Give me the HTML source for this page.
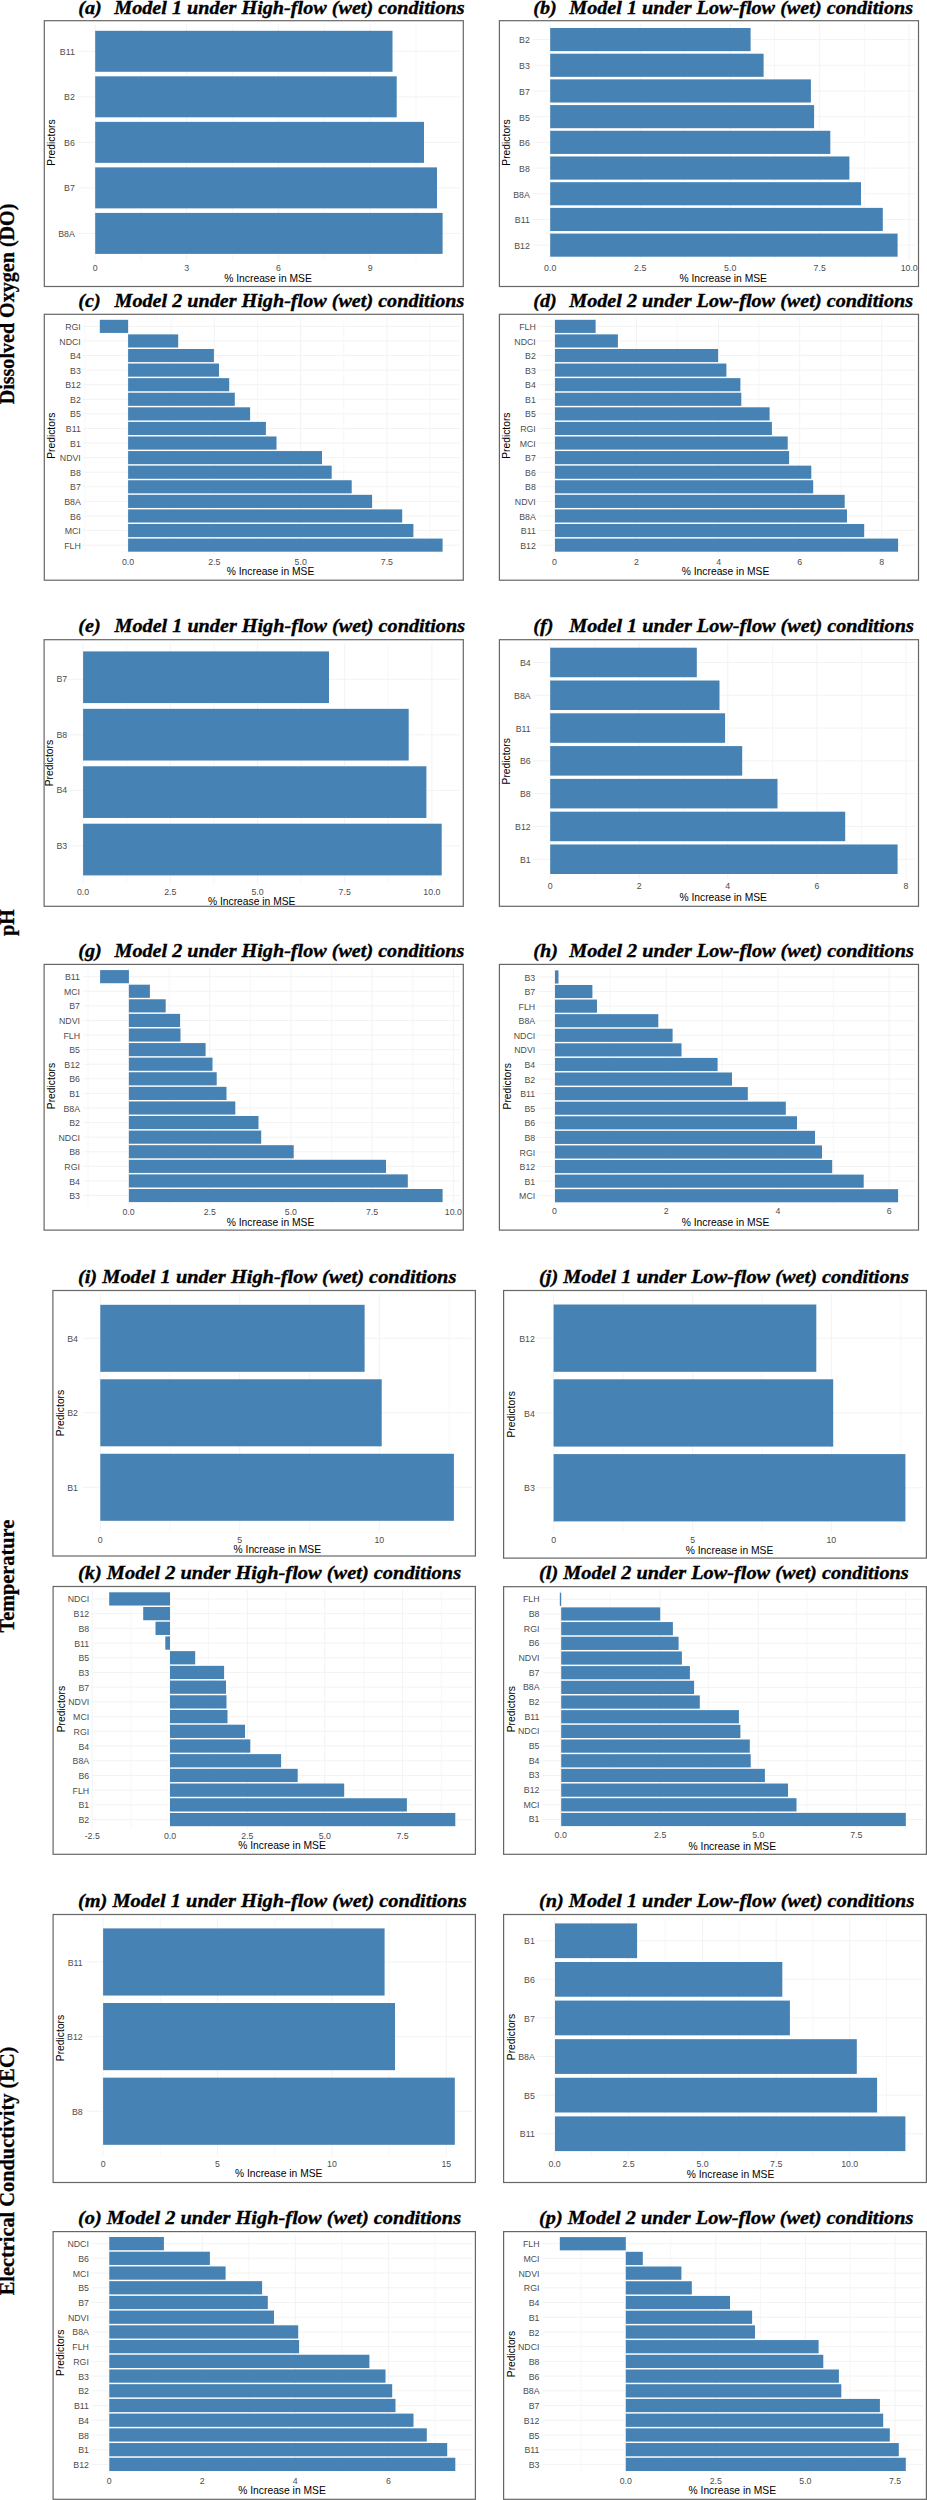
<!DOCTYPE html><html><head><meta charset="utf-8"><style>html,body{margin:0;padding:0;background:#fff;width:927px;height:2500px;overflow:hidden}svg{display:block}.ti{font-family:"Liberation Serif",serif;font-weight:bold;font-style:italic;fill:#000;stroke:#000;stroke-width:0.35px}.rl{font-family:"Liberation Serif",serif;font-weight:bold;fill:#000;stroke:#000;stroke-width:0.3px}.tk{font-family:"Liberation Sans",sans-serif;fill:#4D4D4D}.at{font-family:"Liberation Sans",sans-serif;fill:#000}</style></head><body>
<svg width="927" height="2500" viewBox="0 0 927 2500">
<rect width="927" height="2500" fill="#fff"/>
<text class="rl" font-size="20.3" transform="translate(14,304) rotate(-90)" text-anchor="middle" textLength="200.7" lengthAdjust="spacingAndGlyphs">Dissolved Oxygen (DO)</text>
<text class="rl" font-size="20.3" transform="translate(14,922.5) rotate(-90)" text-anchor="middle" textLength="26.4" lengthAdjust="spacingAndGlyphs">pH</text>
<text class="rl" font-size="20.3" transform="translate(14,1576.2) rotate(-90)" text-anchor="middle" textLength="112.7" lengthAdjust="spacingAndGlyphs">Temperature</text>
<text class="rl" font-size="20.3" transform="translate(14,2171) rotate(-90)" text-anchor="middle" textLength="248.7" lengthAdjust="spacingAndGlyphs">Electrical Conductivity (EC)</text>
<line x1="141.03" y1="23.97" x2="141.03" y2="260.73" stroke="#F5F5F5" stroke-width="0.8"/>
<line x1="232.7" y1="23.97" x2="232.7" y2="260.73" stroke="#F5F5F5" stroke-width="0.8"/>
<line x1="324.37" y1="23.97" x2="324.37" y2="260.73" stroke="#F5F5F5" stroke-width="0.8"/>
<line x1="416.03" y1="23.97" x2="416.03" y2="260.73" stroke="#F5F5F5" stroke-width="0.8"/>
<line x1="95.2" y1="23.97" x2="95.2" y2="260.73" stroke="#F3F3F3" stroke-width="1"/>
<line x1="186.6" y1="23.97" x2="186.6" y2="260.73" stroke="#F3F3F3" stroke-width="1"/>
<line x1="278.4" y1="23.97" x2="278.4" y2="260.73" stroke="#F3F3F3" stroke-width="1"/>
<line x1="370.2" y1="23.97" x2="370.2" y2="260.73" stroke="#F3F3F3" stroke-width="1"/>
<line x1="77.83" y1="51.29" x2="459.97" y2="51.29" stroke="#F3F3F3" stroke-width="1"/>
<line x1="77.83" y1="96.82" x2="459.97" y2="96.82" stroke="#F3F3F3" stroke-width="1"/>
<line x1="77.83" y1="142.35" x2="459.97" y2="142.35" stroke="#F3F3F3" stroke-width="1"/>
<line x1="77.83" y1="187.88" x2="459.97" y2="187.88" stroke="#F3F3F3" stroke-width="1"/>
<line x1="77.83" y1="233.41" x2="459.97" y2="233.41" stroke="#F3F3F3" stroke-width="1"/>
<rect x="95.2" y="30.8" width="297.3" height="40.98" fill="#4682B4"/>
<text class="tk" font-size="8.8" transform="translate(74.8,54.86) scale(1,1.08)" text-anchor="end">B11</text>
<rect x="95.2" y="76.33" width="301.5" height="40.98" fill="#4682B4"/>
<text class="tk" font-size="8.8" transform="translate(74.8,100.39) scale(1,1.08)" text-anchor="end">B2</text>
<rect x="95.2" y="121.86" width="328.8" height="40.98" fill="#4682B4"/>
<text class="tk" font-size="8.8" transform="translate(74.8,145.92) scale(1,1.08)" text-anchor="end">B6</text>
<rect x="95.2" y="167.39" width="341.8" height="40.98" fill="#4682B4"/>
<text class="tk" font-size="8.8" transform="translate(74.8,191.45) scale(1,1.08)" text-anchor="end">B7</text>
<rect x="95.2" y="212.92" width="347.4" height="40.98" fill="#4682B4"/>
<text class="tk" font-size="8.8" transform="translate(74.8,236.98) scale(1,1.08)" text-anchor="end">B8A</text>
<text class="tk" font-size="8.8" transform="translate(95.2,271.07) scale(1,1.08)" text-anchor="middle">0</text>
<text class="tk" font-size="8.8" transform="translate(186.6,271.07) scale(1,1.08)" text-anchor="middle">3</text>
<text class="tk" font-size="8.8" transform="translate(278.4,271.07) scale(1,1.08)" text-anchor="middle">6</text>
<text class="tk" font-size="8.8" transform="translate(370.2,271.07) scale(1,1.08)" text-anchor="middle">9</text>
<text class="at" font-size="10.3" x="268" y="281.69" text-anchor="middle">% Increase in MSE</text>
<text class="at" font-size="10.3" transform="translate(55.29,142.5) rotate(-90)" text-anchor="middle">Predictors</text>
<rect x="44.3" y="20.7" width="419" height="265.8" fill="none" stroke="#666666" stroke-width="1.2"/>
<text class="ti" font-size="20.2" transform="translate(78.2,14) scale(1,0.95)">(a)</text>
<text class="ti" font-size="20.2" transform="translate(114.2,14) scale(1,0.95)" textLength="350.4" lengthAdjust="spacingAndGlyphs">Model 1 under High-flow (wet) conditions</text>
<line x1="595.08" y1="24.15" x2="595.08" y2="260.55" stroke="#F5F5F5" stroke-width="0.8"/>
<line x1="684.83" y1="24.15" x2="684.83" y2="260.55" stroke="#F5F5F5" stroke-width="0.8"/>
<line x1="774.58" y1="24.15" x2="774.58" y2="260.55" stroke="#F5F5F5" stroke-width="0.8"/>
<line x1="864.33" y1="24.15" x2="864.33" y2="260.55" stroke="#F5F5F5" stroke-width="0.8"/>
<line x1="550.2" y1="24.15" x2="550.2" y2="260.55" stroke="#F3F3F3" stroke-width="1"/>
<line x1="640.2" y1="24.15" x2="640.2" y2="260.55" stroke="#F3F3F3" stroke-width="1"/>
<line x1="730.2" y1="24.15" x2="730.2" y2="260.55" stroke="#F3F3F3" stroke-width="1"/>
<line x1="819.7" y1="24.15" x2="819.7" y2="260.55" stroke="#F3F3F3" stroke-width="1"/>
<line x1="909.2" y1="24.15" x2="909.2" y2="260.55" stroke="#F3F3F3" stroke-width="1"/>
<line x1="532.83" y1="39.56" x2="914.97" y2="39.56" stroke="#F3F3F3" stroke-width="1"/>
<line x1="532.83" y1="65.26" x2="914.97" y2="65.26" stroke="#F3F3F3" stroke-width="1"/>
<line x1="532.83" y1="90.96" x2="914.97" y2="90.96" stroke="#F3F3F3" stroke-width="1"/>
<line x1="532.83" y1="116.65" x2="914.97" y2="116.65" stroke="#F3F3F3" stroke-width="1"/>
<line x1="532.83" y1="142.35" x2="914.97" y2="142.35" stroke="#F3F3F3" stroke-width="1"/>
<line x1="532.83" y1="168.05" x2="914.97" y2="168.05" stroke="#F3F3F3" stroke-width="1"/>
<line x1="532.83" y1="193.74" x2="914.97" y2="193.74" stroke="#F3F3F3" stroke-width="1"/>
<line x1="532.83" y1="219.44" x2="914.97" y2="219.44" stroke="#F3F3F3" stroke-width="1"/>
<line x1="532.83" y1="245.14" x2="914.97" y2="245.14" stroke="#F3F3F3" stroke-width="1"/>
<rect x="550.2" y="28" width="200.4" height="23.13" fill="#4682B4"/>
<text class="tk" font-size="8.8" transform="translate(529.8,43.43) scale(1,1.08)" text-anchor="end">B2</text>
<rect x="550.2" y="53.7" width="213.4" height="23.13" fill="#4682B4"/>
<text class="tk" font-size="8.8" transform="translate(529.8,69.13) scale(1,1.08)" text-anchor="end">B3</text>
<rect x="550.2" y="79.39" width="260.7" height="23.13" fill="#4682B4"/>
<text class="tk" font-size="8.8" transform="translate(529.8,94.83) scale(1,1.08)" text-anchor="end">B7</text>
<rect x="550.2" y="105.09" width="263.9" height="23.13" fill="#4682B4"/>
<text class="tk" font-size="8.8" transform="translate(529.8,120.52) scale(1,1.08)" text-anchor="end">B5</text>
<rect x="550.2" y="130.79" width="280.1" height="23.13" fill="#4682B4"/>
<text class="tk" font-size="8.8" transform="translate(529.8,146.22) scale(1,1.08)" text-anchor="end">B6</text>
<rect x="550.2" y="156.48" width="299.2" height="23.13" fill="#4682B4"/>
<text class="tk" font-size="8.8" transform="translate(529.8,171.92) scale(1,1.08)" text-anchor="end">B8</text>
<rect x="550.2" y="182.18" width="310.8" height="23.13" fill="#4682B4"/>
<text class="tk" font-size="8.8" transform="translate(529.8,197.61) scale(1,1.08)" text-anchor="end">B8A</text>
<rect x="550.2" y="207.88" width="332.6" height="23.13" fill="#4682B4"/>
<text class="tk" font-size="8.8" transform="translate(529.8,223.31) scale(1,1.08)" text-anchor="end">B11</text>
<rect x="550.2" y="233.57" width="347.4" height="23.13" fill="#4682B4"/>
<text class="tk" font-size="8.8" transform="translate(529.8,249.01) scale(1,1.08)" text-anchor="end">B12</text>
<text class="tk" font-size="8.8" transform="translate(550.2,271.07) scale(1,1.08)" text-anchor="middle">0.0</text>
<text class="tk" font-size="8.8" transform="translate(640.2,271.07) scale(1,1.08)" text-anchor="middle">2.5</text>
<text class="tk" font-size="8.8" transform="translate(730.2,271.07) scale(1,1.08)" text-anchor="middle">5.0</text>
<text class="tk" font-size="8.8" transform="translate(819.7,271.07) scale(1,1.08)" text-anchor="middle">7.5</text>
<text class="tk" font-size="8.8" transform="translate(909.2,271.07) scale(1,1.08)" text-anchor="middle">10.0</text>
<text class="at" font-size="10.3" x="723.2" y="281.69" text-anchor="middle">% Increase in MSE</text>
<text class="at" font-size="10.3" transform="translate(510.29,142.5) rotate(-90)" text-anchor="middle">Predictors</text>
<rect x="499.4" y="20.7" width="419.1" height="265.8" fill="none" stroke="#666666" stroke-width="1.2"/>
<text class="ti" font-size="20.2" transform="translate(533.2,14) scale(1,0.95)">(b)</text>
<text class="ti" font-size="20.2" transform="translate(569.2,14) scale(1,0.95)" textLength="343.9" lengthAdjust="spacingAndGlyphs">Model 1 under Low-flow (wet) conditions</text>
<line x1="84.97" y1="317.61" x2="84.97" y2="553.89" stroke="#F5F5F5" stroke-width="0.8"/>
<line x1="171.23" y1="317.61" x2="171.23" y2="553.89" stroke="#F5F5F5" stroke-width="0.8"/>
<line x1="257.5" y1="317.61" x2="257.5" y2="553.89" stroke="#F5F5F5" stroke-width="0.8"/>
<line x1="343.77" y1="317.61" x2="343.77" y2="553.89" stroke="#F5F5F5" stroke-width="0.8"/>
<line x1="430.03" y1="317.61" x2="430.03" y2="553.89" stroke="#F5F5F5" stroke-width="0.8"/>
<line x1="128.1" y1="317.61" x2="128.1" y2="553.89" stroke="#F3F3F3" stroke-width="1"/>
<line x1="214.4" y1="317.61" x2="214.4" y2="553.89" stroke="#F3F3F3" stroke-width="1"/>
<line x1="300.7" y1="317.61" x2="300.7" y2="553.89" stroke="#F3F3F3" stroke-width="1"/>
<line x1="386.9" y1="317.61" x2="386.9" y2="553.89" stroke="#F3F3F3" stroke-width="1"/>
<line x1="82.66" y1="326.36" x2="459.74" y2="326.36" stroke="#F3F3F3" stroke-width="1"/>
<line x1="82.66" y1="340.95" x2="459.74" y2="340.95" stroke="#F3F3F3" stroke-width="1"/>
<line x1="82.66" y1="355.53" x2="459.74" y2="355.53" stroke="#F3F3F3" stroke-width="1"/>
<line x1="82.66" y1="370.12" x2="459.74" y2="370.12" stroke="#F3F3F3" stroke-width="1"/>
<line x1="82.66" y1="384.7" x2="459.74" y2="384.7" stroke="#F3F3F3" stroke-width="1"/>
<line x1="82.66" y1="399.29" x2="459.74" y2="399.29" stroke="#F3F3F3" stroke-width="1"/>
<line x1="82.66" y1="413.87" x2="459.74" y2="413.87" stroke="#F3F3F3" stroke-width="1"/>
<line x1="82.66" y1="428.46" x2="459.74" y2="428.46" stroke="#F3F3F3" stroke-width="1"/>
<line x1="82.66" y1="443.04" x2="459.74" y2="443.04" stroke="#F3F3F3" stroke-width="1"/>
<line x1="82.66" y1="457.63" x2="459.74" y2="457.63" stroke="#F3F3F3" stroke-width="1"/>
<line x1="82.66" y1="472.21" x2="459.74" y2="472.21" stroke="#F3F3F3" stroke-width="1"/>
<line x1="82.66" y1="486.8" x2="459.74" y2="486.8" stroke="#F3F3F3" stroke-width="1"/>
<line x1="82.66" y1="501.38" x2="459.74" y2="501.38" stroke="#F3F3F3" stroke-width="1"/>
<line x1="82.66" y1="515.97" x2="459.74" y2="515.97" stroke="#F3F3F3" stroke-width="1"/>
<line x1="82.66" y1="530.55" x2="459.74" y2="530.55" stroke="#F3F3F3" stroke-width="1"/>
<line x1="82.66" y1="545.14" x2="459.74" y2="545.14" stroke="#F3F3F3" stroke-width="1"/>
<rect x="99.8" y="319.8" width="28.3" height="13.13" fill="#4682B4"/>
<text class="tk" font-size="8.8" transform="translate(80.8,329.93) scale(1,1.08)" text-anchor="end">RGI</text>
<rect x="128.1" y="334.38" width="50.1" height="13.13" fill="#4682B4"/>
<text class="tk" font-size="8.8" transform="translate(80.8,344.52) scale(1,1.08)" text-anchor="end">NDCI</text>
<rect x="128.1" y="348.97" width="85.8" height="13.13" fill="#4682B4"/>
<text class="tk" font-size="8.8" transform="translate(80.8,359.1) scale(1,1.08)" text-anchor="end">B4</text>
<rect x="128.1" y="363.55" width="90.9" height="13.13" fill="#4682B4"/>
<text class="tk" font-size="8.8" transform="translate(80.8,373.69) scale(1,1.08)" text-anchor="end">B3</text>
<rect x="128.1" y="378.14" width="101.1" height="13.13" fill="#4682B4"/>
<text class="tk" font-size="8.8" transform="translate(80.8,388.27) scale(1,1.08)" text-anchor="end">B12</text>
<rect x="128.1" y="392.72" width="106.7" height="13.13" fill="#4682B4"/>
<text class="tk" font-size="8.8" transform="translate(80.8,402.86) scale(1,1.08)" text-anchor="end">B2</text>
<rect x="128.1" y="407.31" width="122" height="13.13" fill="#4682B4"/>
<text class="tk" font-size="8.8" transform="translate(80.8,417.44) scale(1,1.08)" text-anchor="end">B5</text>
<rect x="128.1" y="421.89" width="137.8" height="13.13" fill="#4682B4"/>
<text class="tk" font-size="8.8" transform="translate(80.8,432.03) scale(1,1.08)" text-anchor="end">B11</text>
<rect x="128.1" y="436.48" width="148.4" height="13.13" fill="#4682B4"/>
<text class="tk" font-size="8.8" transform="translate(80.8,446.61) scale(1,1.08)" text-anchor="end">B1</text>
<rect x="128.1" y="451.06" width="193.9" height="13.13" fill="#4682B4"/>
<text class="tk" font-size="8.8" transform="translate(80.8,461.2) scale(1,1.08)" text-anchor="end">NDVI</text>
<rect x="128.1" y="465.65" width="203.6" height="13.13" fill="#4682B4"/>
<text class="tk" font-size="8.8" transform="translate(80.8,475.78) scale(1,1.08)" text-anchor="end">B8</text>
<rect x="128.1" y="480.23" width="223.6" height="13.13" fill="#4682B4"/>
<text class="tk" font-size="8.8" transform="translate(80.8,490.37) scale(1,1.08)" text-anchor="end">B7</text>
<rect x="128.1" y="494.82" width="244" height="13.13" fill="#4682B4"/>
<text class="tk" font-size="8.8" transform="translate(80.8,504.95) scale(1,1.08)" text-anchor="end">B8A</text>
<rect x="128.1" y="509.4" width="274.1" height="13.13" fill="#4682B4"/>
<text class="tk" font-size="8.8" transform="translate(80.8,519.54) scale(1,1.08)" text-anchor="end">B6</text>
<rect x="128.1" y="523.99" width="285.3" height="13.13" fill="#4682B4"/>
<text class="tk" font-size="8.8" transform="translate(80.8,534.12) scale(1,1.08)" text-anchor="end">MCI</text>
<rect x="128.1" y="538.57" width="314.5" height="13.13" fill="#4682B4"/>
<text class="tk" font-size="8.8" transform="translate(80.8,548.71) scale(1,1.08)" text-anchor="end">FLH</text>
<text class="tk" font-size="8.8" transform="translate(128.1,565.17) scale(1,1.08)" text-anchor="middle">0.0</text>
<text class="tk" font-size="8.8" transform="translate(214.4,565.17) scale(1,1.08)" text-anchor="middle">2.5</text>
<text class="tk" font-size="8.8" transform="translate(300.7,565.17) scale(1,1.08)" text-anchor="middle">5.0</text>
<text class="tk" font-size="8.8" transform="translate(386.9,565.17) scale(1,1.08)" text-anchor="middle">7.5</text>
<text class="at" font-size="10.3" x="270.5" y="574.89" text-anchor="middle">% Increase in MSE</text>
<text class="at" font-size="10.3" transform="translate(55.29,435.7) rotate(-90)" text-anchor="middle">Predictors</text>
<rect x="44.3" y="314.3" width="419" height="265.9" fill="none" stroke="#666666" stroke-width="1.2"/>
<text class="ti" font-size="20.2" transform="translate(78.3,307.4) scale(1,0.95)">(c)</text>
<text class="ti" font-size="20.2" transform="translate(114.5,307.4) scale(1,0.95)" textLength="349.9" lengthAdjust="spacingAndGlyphs">Model 2 under High-flow (wet) conditions</text>
<line x1="595.32" y1="317.61" x2="595.32" y2="553.89" stroke="#F5F5F5" stroke-width="0.8"/>
<line x1="677.17" y1="317.61" x2="677.17" y2="553.89" stroke="#F5F5F5" stroke-width="0.8"/>
<line x1="759.02" y1="317.61" x2="759.02" y2="553.89" stroke="#F5F5F5" stroke-width="0.8"/>
<line x1="840.88" y1="317.61" x2="840.88" y2="553.89" stroke="#F5F5F5" stroke-width="0.8"/>
<line x1="554.4" y1="317.61" x2="554.4" y2="553.89" stroke="#F3F3F3" stroke-width="1"/>
<line x1="636.5" y1="317.61" x2="636.5" y2="553.89" stroke="#F3F3F3" stroke-width="1"/>
<line x1="718.6" y1="317.61" x2="718.6" y2="553.89" stroke="#F3F3F3" stroke-width="1"/>
<line x1="799.7" y1="317.61" x2="799.7" y2="553.89" stroke="#F3F3F3" stroke-width="1"/>
<line x1="881.8" y1="317.61" x2="881.8" y2="553.89" stroke="#F3F3F3" stroke-width="1"/>
<line x1="537.21" y1="326.36" x2="915.28" y2="326.36" stroke="#F3F3F3" stroke-width="1"/>
<line x1="537.21" y1="340.95" x2="915.28" y2="340.95" stroke="#F3F3F3" stroke-width="1"/>
<line x1="537.21" y1="355.53" x2="915.28" y2="355.53" stroke="#F3F3F3" stroke-width="1"/>
<line x1="537.21" y1="370.12" x2="915.28" y2="370.12" stroke="#F3F3F3" stroke-width="1"/>
<line x1="537.21" y1="384.7" x2="915.28" y2="384.7" stroke="#F3F3F3" stroke-width="1"/>
<line x1="537.21" y1="399.29" x2="915.28" y2="399.29" stroke="#F3F3F3" stroke-width="1"/>
<line x1="537.21" y1="413.87" x2="915.28" y2="413.87" stroke="#F3F3F3" stroke-width="1"/>
<line x1="537.21" y1="428.46" x2="915.28" y2="428.46" stroke="#F3F3F3" stroke-width="1"/>
<line x1="537.21" y1="443.04" x2="915.28" y2="443.04" stroke="#F3F3F3" stroke-width="1"/>
<line x1="537.21" y1="457.63" x2="915.28" y2="457.63" stroke="#F3F3F3" stroke-width="1"/>
<line x1="537.21" y1="472.21" x2="915.28" y2="472.21" stroke="#F3F3F3" stroke-width="1"/>
<line x1="537.21" y1="486.8" x2="915.28" y2="486.8" stroke="#F3F3F3" stroke-width="1"/>
<line x1="537.21" y1="501.38" x2="915.28" y2="501.38" stroke="#F3F3F3" stroke-width="1"/>
<line x1="537.21" y1="515.97" x2="915.28" y2="515.97" stroke="#F3F3F3" stroke-width="1"/>
<line x1="537.21" y1="530.55" x2="915.28" y2="530.55" stroke="#F3F3F3" stroke-width="1"/>
<line x1="537.21" y1="545.14" x2="915.28" y2="545.14" stroke="#F3F3F3" stroke-width="1"/>
<rect x="555" y="319.8" width="40.6" height="13.13" fill="#4682B4"/>
<text class="tk" font-size="8.8" transform="translate(535.8,329.93) scale(1,1.08)" text-anchor="end">FLH</text>
<rect x="555" y="334.38" width="62.9" height="13.13" fill="#4682B4"/>
<text class="tk" font-size="8.8" transform="translate(535.8,344.52) scale(1,1.08)" text-anchor="end">NDCI</text>
<rect x="555" y="348.97" width="163.1" height="13.13" fill="#4682B4"/>
<text class="tk" font-size="8.8" transform="translate(535.8,359.1) scale(1,1.08)" text-anchor="end">B2</text>
<rect x="555" y="363.55" width="171.4" height="13.13" fill="#4682B4"/>
<text class="tk" font-size="8.8" transform="translate(535.8,373.69) scale(1,1.08)" text-anchor="end">B3</text>
<rect x="555" y="378.14" width="185.4" height="13.13" fill="#4682B4"/>
<text class="tk" font-size="8.8" transform="translate(535.8,388.27) scale(1,1.08)" text-anchor="end">B4</text>
<rect x="555" y="392.72" width="186.3" height="13.13" fill="#4682B4"/>
<text class="tk" font-size="8.8" transform="translate(535.8,402.86) scale(1,1.08)" text-anchor="end">B1</text>
<rect x="555" y="407.31" width="214.6" height="13.13" fill="#4682B4"/>
<text class="tk" font-size="8.8" transform="translate(535.8,417.44) scale(1,1.08)" text-anchor="end">B5</text>
<rect x="555" y="421.89" width="216.9" height="13.13" fill="#4682B4"/>
<text class="tk" font-size="8.8" transform="translate(535.8,432.03) scale(1,1.08)" text-anchor="end">RGI</text>
<rect x="555" y="436.48" width="232.7" height="13.13" fill="#4682B4"/>
<text class="tk" font-size="8.8" transform="translate(535.8,446.61) scale(1,1.08)" text-anchor="end">MCI</text>
<rect x="555" y="451.06" width="234.1" height="13.13" fill="#4682B4"/>
<text class="tk" font-size="8.8" transform="translate(535.8,461.2) scale(1,1.08)" text-anchor="end">B7</text>
<rect x="555" y="465.65" width="256.3" height="13.13" fill="#4682B4"/>
<text class="tk" font-size="8.8" transform="translate(535.8,475.78) scale(1,1.08)" text-anchor="end">B6</text>
<rect x="555" y="480.23" width="258.2" height="13.13" fill="#4682B4"/>
<text class="tk" font-size="8.8" transform="translate(535.8,490.37) scale(1,1.08)" text-anchor="end">B8</text>
<rect x="555" y="494.82" width="289.7" height="13.13" fill="#4682B4"/>
<text class="tk" font-size="8.8" transform="translate(535.8,504.95) scale(1,1.08)" text-anchor="end">NDVI</text>
<rect x="555" y="509.4" width="292" height="13.13" fill="#4682B4"/>
<text class="tk" font-size="8.8" transform="translate(535.8,519.54) scale(1,1.08)" text-anchor="end">B8A</text>
<rect x="555" y="523.99" width="309.2" height="13.13" fill="#4682B4"/>
<text class="tk" font-size="8.8" transform="translate(535.8,534.12) scale(1,1.08)" text-anchor="end">B11</text>
<rect x="555" y="538.57" width="343.1" height="13.13" fill="#4682B4"/>
<text class="tk" font-size="8.8" transform="translate(535.8,548.71) scale(1,1.08)" text-anchor="end">B12</text>
<text class="tk" font-size="8.8" transform="translate(554.4,565.17) scale(1,1.08)" text-anchor="middle">0</text>
<text class="tk" font-size="8.8" transform="translate(636.5,565.17) scale(1,1.08)" text-anchor="middle">2</text>
<text class="tk" font-size="8.8" transform="translate(718.6,565.17) scale(1,1.08)" text-anchor="middle">4</text>
<text class="tk" font-size="8.8" transform="translate(799.7,565.17) scale(1,1.08)" text-anchor="middle">6</text>
<text class="tk" font-size="8.8" transform="translate(881.8,565.17) scale(1,1.08)" text-anchor="middle">8</text>
<text class="at" font-size="10.3" x="725.5" y="574.89" text-anchor="middle">% Increase in MSE</text>
<text class="at" font-size="10.3" transform="translate(510.29,435.7) rotate(-90)" text-anchor="middle">Predictors</text>
<rect x="499.4" y="314.3" width="419.1" height="265.9" fill="none" stroke="#666666" stroke-width="1.2"/>
<text class="ti" font-size="20.2" transform="translate(533.2,307.3) scale(1,0.95)">(d)</text>
<text class="ti" font-size="20.2" transform="translate(569.2,307.3) scale(1,0.95)" textLength="343.9" lengthAdjust="spacingAndGlyphs">Model 2 under Low-flow (wet) conditions</text>
<line x1="126.7" y1="642.78" x2="126.7" y2="884.02" stroke="#F5F5F5" stroke-width="0.8"/>
<line x1="213.9" y1="642.78" x2="213.9" y2="884.02" stroke="#F5F5F5" stroke-width="0.8"/>
<line x1="301.1" y1="642.78" x2="301.1" y2="884.02" stroke="#F5F5F5" stroke-width="0.8"/>
<line x1="388.3" y1="642.78" x2="388.3" y2="884.02" stroke="#F5F5F5" stroke-width="0.8"/>
<line x1="83.1" y1="642.78" x2="83.1" y2="884.02" stroke="#F3F3F3" stroke-width="1"/>
<line x1="170.3" y1="642.78" x2="170.3" y2="884.02" stroke="#F3F3F3" stroke-width="1"/>
<line x1="257.5" y1="642.78" x2="257.5" y2="884.02" stroke="#F3F3F3" stroke-width="1"/>
<line x1="344.7" y1="642.78" x2="344.7" y2="884.02" stroke="#F3F3F3" stroke-width="1"/>
<line x1="431.9" y1="642.78" x2="431.9" y2="884.02" stroke="#F3F3F3" stroke-width="1"/>
<line x1="65.17" y1="679.3" x2="459.63" y2="679.3" stroke="#F3F3F3" stroke-width="1"/>
<line x1="65.17" y1="734.83" x2="459.63" y2="734.83" stroke="#F3F3F3" stroke-width="1"/>
<line x1="65.17" y1="790.37" x2="459.63" y2="790.37" stroke="#F3F3F3" stroke-width="1"/>
<line x1="65.17" y1="845.9" x2="459.63" y2="845.9" stroke="#F3F3F3" stroke-width="1"/>
<rect x="83.1" y="651.4" width="245.9" height="51.69" fill="#4682B4"/>
<text class="tk" font-size="8.8" transform="translate(67.2,682.17) scale(1,1.08)" text-anchor="end">B7</text>
<rect x="83.1" y="708.84" width="325.6" height="51.69" fill="#4682B4"/>
<text class="tk" font-size="8.8" transform="translate(67.2,737.7) scale(1,1.08)" text-anchor="end">B8</text>
<rect x="83.1" y="766.27" width="343.3" height="51.69" fill="#4682B4"/>
<text class="tk" font-size="8.8" transform="translate(67.2,793.24) scale(1,1.08)" text-anchor="end">B4</text>
<rect x="83.1" y="823.71" width="358.6" height="51.69" fill="#4682B4"/>
<text class="tk" font-size="8.8" transform="translate(67.2,848.77) scale(1,1.08)" text-anchor="end">B3</text>
<text class="tk" font-size="8.8" transform="translate(83.1,894.87) scale(1,1.08)" text-anchor="middle">0.0</text>
<text class="tk" font-size="8.8" transform="translate(170.3,894.87) scale(1,1.08)" text-anchor="middle">2.5</text>
<text class="tk" font-size="8.8" transform="translate(257.5,894.87) scale(1,1.08)" text-anchor="middle">5.0</text>
<text class="tk" font-size="8.8" transform="translate(344.7,894.87) scale(1,1.08)" text-anchor="middle">7.5</text>
<text class="tk" font-size="8.8" transform="translate(431.9,894.87) scale(1,1.08)" text-anchor="middle">10.0</text>
<text class="at" font-size="10.3" x="251.7" y="904.59" text-anchor="middle">% Increase in MSE</text>
<text class="at" font-size="10.3" transform="translate(53.39,763.1) rotate(-90)" text-anchor="middle">Predictors</text>
<rect x="44.1" y="639.7" width="419.2" height="266.6" fill="none" stroke="#666666" stroke-width="1.2"/>
<text class="ti" font-size="20.2" transform="translate(78.3,632) scale(1,0.95)">(e)</text>
<text class="ti" font-size="20.2" transform="translate(114.5,632) scale(1,0.95)" textLength="350.5" lengthAdjust="spacingAndGlyphs">Model 1 under High-flow (wet) conditions</text>
<line x1="594.68" y1="642.78" x2="594.68" y2="878.92" stroke="#F5F5F5" stroke-width="0.8"/>
<line x1="683.62" y1="642.78" x2="683.62" y2="878.92" stroke="#F5F5F5" stroke-width="0.8"/>
<line x1="772.58" y1="642.78" x2="772.58" y2="878.92" stroke="#F5F5F5" stroke-width="0.8"/>
<line x1="861.52" y1="642.78" x2="861.52" y2="878.92" stroke="#F5F5F5" stroke-width="0.8"/>
<line x1="550.2" y1="642.78" x2="550.2" y2="878.92" stroke="#F3F3F3" stroke-width="1"/>
<line x1="639.2" y1="642.78" x2="639.2" y2="878.92" stroke="#F3F3F3" stroke-width="1"/>
<line x1="727.8" y1="642.78" x2="727.8" y2="878.92" stroke="#F3F3F3" stroke-width="1"/>
<line x1="816.9" y1="642.78" x2="816.9" y2="878.92" stroke="#F3F3F3" stroke-width="1"/>
<line x1="906" y1="642.78" x2="906" y2="878.92" stroke="#F3F3F3" stroke-width="1"/>
<line x1="532.83" y1="662.46" x2="914.97" y2="662.46" stroke="#F3F3F3" stroke-width="1"/>
<line x1="532.83" y1="695.26" x2="914.97" y2="695.26" stroke="#F3F3F3" stroke-width="1"/>
<line x1="532.83" y1="728.05" x2="914.97" y2="728.05" stroke="#F3F3F3" stroke-width="1"/>
<line x1="532.83" y1="760.85" x2="914.97" y2="760.85" stroke="#F3F3F3" stroke-width="1"/>
<line x1="532.83" y1="793.65" x2="914.97" y2="793.65" stroke="#F3F3F3" stroke-width="1"/>
<line x1="532.83" y1="826.44" x2="914.97" y2="826.44" stroke="#F3F3F3" stroke-width="1"/>
<line x1="532.83" y1="859.24" x2="914.97" y2="859.24" stroke="#F3F3F3" stroke-width="1"/>
<rect x="550.2" y="647.7" width="146.6" height="29.52" fill="#4682B4"/>
<text class="tk" font-size="8.8" transform="translate(530.7,666.03) scale(1,1.08)" text-anchor="end">B4</text>
<rect x="550.2" y="680.5" width="169.3" height="29.52" fill="#4682B4"/>
<text class="tk" font-size="8.8" transform="translate(530.7,698.83) scale(1,1.08)" text-anchor="end">B8A</text>
<rect x="550.2" y="713.29" width="174.9" height="29.52" fill="#4682B4"/>
<text class="tk" font-size="8.8" transform="translate(530.7,731.62) scale(1,1.08)" text-anchor="end">B11</text>
<rect x="550.2" y="746.09" width="192" height="29.52" fill="#4682B4"/>
<text class="tk" font-size="8.8" transform="translate(530.7,764.42) scale(1,1.08)" text-anchor="end">B6</text>
<rect x="550.2" y="778.89" width="227.3" height="29.52" fill="#4682B4"/>
<text class="tk" font-size="8.8" transform="translate(530.7,797.22) scale(1,1.08)" text-anchor="end">B8</text>
<rect x="550.2" y="811.69" width="295" height="29.52" fill="#4682B4"/>
<text class="tk" font-size="8.8" transform="translate(530.7,830.01) scale(1,1.08)" text-anchor="end">B12</text>
<rect x="550.2" y="844.48" width="347.4" height="29.52" fill="#4682B4"/>
<text class="tk" font-size="8.8" transform="translate(530.7,862.81) scale(1,1.08)" text-anchor="end">B1</text>
<text class="tk" font-size="8.8" transform="translate(550.2,889.27) scale(1,1.08)" text-anchor="middle">0</text>
<text class="tk" font-size="8.8" transform="translate(639.2,889.27) scale(1,1.08)" text-anchor="middle">2</text>
<text class="tk" font-size="8.8" transform="translate(727.8,889.27) scale(1,1.08)" text-anchor="middle">4</text>
<text class="tk" font-size="8.8" transform="translate(816.9,889.27) scale(1,1.08)" text-anchor="middle">6</text>
<text class="tk" font-size="8.8" transform="translate(906,889.27) scale(1,1.08)" text-anchor="middle">8</text>
<text class="at" font-size="10.3" x="723.2" y="900.89" text-anchor="middle">% Increase in MSE</text>
<text class="at" font-size="10.3" transform="translate(510.29,761.3) rotate(-90)" text-anchor="middle">Predictors</text>
<rect x="499.4" y="639.7" width="419.1" height="266.6" fill="none" stroke="#666666" stroke-width="1.2"/>
<text class="ti" font-size="20.2" transform="translate(533.2,632) scale(1,0.95)">(f)</text>
<text class="ti" font-size="20.2" transform="translate(569.2,632) scale(1,0.95)" textLength="344.6" lengthAdjust="spacingAndGlyphs">Model 1 under Low-flow (wet) conditions</text>
<line x1="88.01" y1="967.91" x2="88.01" y2="1204.29" stroke="#F5F5F5" stroke-width="0.8"/>
<line x1="169.19" y1="967.91" x2="169.19" y2="1204.29" stroke="#F5F5F5" stroke-width="0.8"/>
<line x1="250.36" y1="967.91" x2="250.36" y2="1204.29" stroke="#F5F5F5" stroke-width="0.8"/>
<line x1="331.54" y1="967.91" x2="331.54" y2="1204.29" stroke="#F5F5F5" stroke-width="0.8"/>
<line x1="412.71" y1="967.91" x2="412.71" y2="1204.29" stroke="#F5F5F5" stroke-width="0.8"/>
<line x1="128.6" y1="967.91" x2="128.6" y2="1204.29" stroke="#F3F3F3" stroke-width="1"/>
<line x1="209.8" y1="967.91" x2="209.8" y2="1204.29" stroke="#F3F3F3" stroke-width="1"/>
<line x1="290.9" y1="967.91" x2="290.9" y2="1204.29" stroke="#F3F3F3" stroke-width="1"/>
<line x1="372.1" y1="967.91" x2="372.1" y2="1204.29" stroke="#F3F3F3" stroke-width="1"/>
<line x1="453.3" y1="967.91" x2="453.3" y2="1204.29" stroke="#F3F3F3" stroke-width="1"/>
<line x1="82.97" y1="976.67" x2="459.73" y2="976.67" stroke="#F3F3F3" stroke-width="1"/>
<line x1="82.97" y1="991.26" x2="459.73" y2="991.26" stroke="#F3F3F3" stroke-width="1"/>
<line x1="82.97" y1="1005.85" x2="459.73" y2="1005.85" stroke="#F3F3F3" stroke-width="1"/>
<line x1="82.97" y1="1020.44" x2="459.73" y2="1020.44" stroke="#F3F3F3" stroke-width="1"/>
<line x1="82.97" y1="1035.03" x2="459.73" y2="1035.03" stroke="#F3F3F3" stroke-width="1"/>
<line x1="82.97" y1="1049.62" x2="459.73" y2="1049.62" stroke="#F3F3F3" stroke-width="1"/>
<line x1="82.97" y1="1064.21" x2="459.73" y2="1064.21" stroke="#F3F3F3" stroke-width="1"/>
<line x1="82.97" y1="1078.8" x2="459.73" y2="1078.8" stroke="#F3F3F3" stroke-width="1"/>
<line x1="82.97" y1="1093.4" x2="459.73" y2="1093.4" stroke="#F3F3F3" stroke-width="1"/>
<line x1="82.97" y1="1107.99" x2="459.73" y2="1107.99" stroke="#F3F3F3" stroke-width="1"/>
<line x1="82.97" y1="1122.58" x2="459.73" y2="1122.58" stroke="#F3F3F3" stroke-width="1"/>
<line x1="82.97" y1="1137.17" x2="459.73" y2="1137.17" stroke="#F3F3F3" stroke-width="1"/>
<line x1="82.97" y1="1151.76" x2="459.73" y2="1151.76" stroke="#F3F3F3" stroke-width="1"/>
<line x1="82.97" y1="1166.35" x2="459.73" y2="1166.35" stroke="#F3F3F3" stroke-width="1"/>
<line x1="82.97" y1="1180.94" x2="459.73" y2="1180.94" stroke="#F3F3F3" stroke-width="1"/>
<line x1="82.97" y1="1195.53" x2="459.73" y2="1195.53" stroke="#F3F3F3" stroke-width="1"/>
<rect x="100.1" y="970.1" width="28.8" height="13.13" fill="#4682B4"/>
<text class="tk" font-size="8.8" transform="translate(80,980.24) scale(1,1.08)" text-anchor="end">B11</text>
<rect x="128.9" y="984.69" width="21" height="13.13" fill="#4682B4"/>
<text class="tk" font-size="8.8" transform="translate(80,994.83) scale(1,1.08)" text-anchor="end">MCI</text>
<rect x="128.9" y="999.28" width="36.8" height="13.13" fill="#4682B4"/>
<text class="tk" font-size="8.8" transform="translate(80,1009.42) scale(1,1.08)" text-anchor="end">B7</text>
<rect x="128.9" y="1013.87" width="51.2" height="13.13" fill="#4682B4"/>
<text class="tk" font-size="8.8" transform="translate(80,1024.01) scale(1,1.08)" text-anchor="end">NDVI</text>
<rect x="128.9" y="1028.46" width="51.6" height="13.13" fill="#4682B4"/>
<text class="tk" font-size="8.8" transform="translate(80,1038.6) scale(1,1.08)" text-anchor="end">FLH</text>
<rect x="128.9" y="1043.06" width="76.7" height="13.13" fill="#4682B4"/>
<text class="tk" font-size="8.8" transform="translate(80,1053.19) scale(1,1.08)" text-anchor="end">B5</text>
<rect x="128.9" y="1057.65" width="83.6" height="13.13" fill="#4682B4"/>
<text class="tk" font-size="8.8" transform="translate(80,1067.78) scale(1,1.08)" text-anchor="end">B12</text>
<rect x="128.9" y="1072.24" width="87.8" height="13.13" fill="#4682B4"/>
<text class="tk" font-size="8.8" transform="translate(80,1082.37) scale(1,1.08)" text-anchor="end">B6</text>
<rect x="128.9" y="1086.83" width="97.6" height="13.13" fill="#4682B4"/>
<text class="tk" font-size="8.8" transform="translate(80,1096.96) scale(1,1.08)" text-anchor="end">B1</text>
<rect x="128.9" y="1101.42" width="106.4" height="13.13" fill="#4682B4"/>
<text class="tk" font-size="8.8" transform="translate(80,1111.56) scale(1,1.08)" text-anchor="end">B8A</text>
<rect x="128.9" y="1116.01" width="129.6" height="13.13" fill="#4682B4"/>
<text class="tk" font-size="8.8" transform="translate(80,1126.15) scale(1,1.08)" text-anchor="end">B2</text>
<rect x="128.9" y="1130.6" width="132.3" height="13.13" fill="#4682B4"/>
<text class="tk" font-size="8.8" transform="translate(80,1140.74) scale(1,1.08)" text-anchor="end">NDCI</text>
<rect x="128.9" y="1145.19" width="164.8" height="13.13" fill="#4682B4"/>
<text class="tk" font-size="8.8" transform="translate(80,1155.33) scale(1,1.08)" text-anchor="end">B8</text>
<rect x="128.9" y="1159.79" width="257.1" height="13.13" fill="#4682B4"/>
<text class="tk" font-size="8.8" transform="translate(80,1169.92) scale(1,1.08)" text-anchor="end">RGI</text>
<rect x="128.9" y="1174.38" width="278.9" height="13.13" fill="#4682B4"/>
<text class="tk" font-size="8.8" transform="translate(80,1184.51) scale(1,1.08)" text-anchor="end">B4</text>
<rect x="128.9" y="1188.97" width="313.7" height="13.13" fill="#4682B4"/>
<text class="tk" font-size="8.8" transform="translate(80,1199.1) scale(1,1.08)" text-anchor="end">B3</text>
<text class="tk" font-size="8.8" transform="translate(128.6,1214.87) scale(1,1.08)" text-anchor="middle">0.0</text>
<text class="tk" font-size="8.8" transform="translate(209.8,1214.87) scale(1,1.08)" text-anchor="middle">2.5</text>
<text class="tk" font-size="8.8" transform="translate(290.9,1214.87) scale(1,1.08)" text-anchor="middle">5.0</text>
<text class="tk" font-size="8.8" transform="translate(372.1,1214.87) scale(1,1.08)" text-anchor="middle">7.5</text>
<text class="tk" font-size="8.8" transform="translate(453.3,1214.87) scale(1,1.08)" text-anchor="middle">10.0</text>
<text class="at" font-size="10.3" x="270.5" y="1225.89" text-anchor="middle">% Increase in MSE</text>
<text class="at" font-size="10.3" transform="translate(55.39,1086) rotate(-90)" text-anchor="middle">Predictors</text>
<rect x="44.1" y="964.4" width="419.2" height="265.7" fill="none" stroke="#666666" stroke-width="1.2"/>
<text class="ti" font-size="20.2" transform="translate(78.3,957) scale(1,0.95)">(g)</text>
<text class="ti" font-size="20.2" transform="translate(114.5,957) scale(1,0.95)" textLength="349.9" lengthAdjust="spacingAndGlyphs">Model 2 under High-flow (wet) conditions</text>
<line x1="610.2" y1="968.21" x2="610.2" y2="1204.49" stroke="#F5F5F5" stroke-width="0.8"/>
<line x1="721.8" y1="968.21" x2="721.8" y2="1204.49" stroke="#F5F5F5" stroke-width="0.8"/>
<line x1="833.4" y1="968.21" x2="833.4" y2="1204.49" stroke="#F5F5F5" stroke-width="0.8"/>
<line x1="554.4" y1="968.21" x2="554.4" y2="1204.49" stroke="#F3F3F3" stroke-width="1"/>
<line x1="666.2" y1="968.21" x2="666.2" y2="1204.49" stroke="#F3F3F3" stroke-width="1"/>
<line x1="777.9" y1="968.21" x2="777.9" y2="1204.49" stroke="#F3F3F3" stroke-width="1"/>
<line x1="889.2" y1="968.21" x2="889.2" y2="1204.49" stroke="#F3F3F3" stroke-width="1"/>
<line x1="537.21" y1="976.96" x2="915.29" y2="976.96" stroke="#F3F3F3" stroke-width="1"/>
<line x1="537.21" y1="991.55" x2="915.29" y2="991.55" stroke="#F3F3F3" stroke-width="1"/>
<line x1="537.21" y1="1006.13" x2="915.29" y2="1006.13" stroke="#F3F3F3" stroke-width="1"/>
<line x1="537.21" y1="1020.72" x2="915.29" y2="1020.72" stroke="#F3F3F3" stroke-width="1"/>
<line x1="537.21" y1="1035.3" x2="915.29" y2="1035.3" stroke="#F3F3F3" stroke-width="1"/>
<line x1="537.21" y1="1049.89" x2="915.29" y2="1049.89" stroke="#F3F3F3" stroke-width="1"/>
<line x1="537.21" y1="1064.47" x2="915.29" y2="1064.47" stroke="#F3F3F3" stroke-width="1"/>
<line x1="537.21" y1="1079.06" x2="915.29" y2="1079.06" stroke="#F3F3F3" stroke-width="1"/>
<line x1="537.21" y1="1093.64" x2="915.29" y2="1093.64" stroke="#F3F3F3" stroke-width="1"/>
<line x1="537.21" y1="1108.23" x2="915.29" y2="1108.23" stroke="#F3F3F3" stroke-width="1"/>
<line x1="537.21" y1="1122.81" x2="915.29" y2="1122.81" stroke="#F3F3F3" stroke-width="1"/>
<line x1="537.21" y1="1137.4" x2="915.29" y2="1137.4" stroke="#F3F3F3" stroke-width="1"/>
<line x1="537.21" y1="1151.98" x2="915.29" y2="1151.98" stroke="#F3F3F3" stroke-width="1"/>
<line x1="537.21" y1="1166.57" x2="915.29" y2="1166.57" stroke="#F3F3F3" stroke-width="1"/>
<line x1="537.21" y1="1181.15" x2="915.29" y2="1181.15" stroke="#F3F3F3" stroke-width="1"/>
<line x1="537.21" y1="1195.74" x2="915.29" y2="1195.74" stroke="#F3F3F3" stroke-width="1"/>
<rect x="555" y="970.4" width="3.5" height="13.13" fill="#4682B4"/>
<text class="tk" font-size="8.8" transform="translate(535.2,980.53) scale(1,1.08)" text-anchor="end">B3</text>
<rect x="555" y="984.98" width="37.4" height="13.13" fill="#4682B4"/>
<text class="tk" font-size="8.8" transform="translate(535.2,995.12) scale(1,1.08)" text-anchor="end">B7</text>
<rect x="555" y="999.57" width="42" height="13.13" fill="#4682B4"/>
<text class="tk" font-size="8.8" transform="translate(535.2,1009.7) scale(1,1.08)" text-anchor="end">FLH</text>
<rect x="555" y="1014.15" width="103.3" height="13.13" fill="#4682B4"/>
<text class="tk" font-size="8.8" transform="translate(535.2,1024.29) scale(1,1.08)" text-anchor="end">B8A</text>
<rect x="555" y="1028.74" width="117.6" height="13.13" fill="#4682B4"/>
<text class="tk" font-size="8.8" transform="translate(535.2,1038.87) scale(1,1.08)" text-anchor="end">NDCI</text>
<rect x="555" y="1043.32" width="126.5" height="13.13" fill="#4682B4"/>
<text class="tk" font-size="8.8" transform="translate(535.2,1053.46) scale(1,1.08)" text-anchor="end">NDVI</text>
<rect x="555" y="1057.91" width="162.6" height="13.13" fill="#4682B4"/>
<text class="tk" font-size="8.8" transform="translate(535.2,1068.04) scale(1,1.08)" text-anchor="end">B4</text>
<rect x="555" y="1072.49" width="177" height="13.13" fill="#4682B4"/>
<text class="tk" font-size="8.8" transform="translate(535.2,1082.63) scale(1,1.08)" text-anchor="end">B2</text>
<rect x="555" y="1087.08" width="192.8" height="13.13" fill="#4682B4"/>
<text class="tk" font-size="8.8" transform="translate(535.2,1097.21) scale(1,1.08)" text-anchor="end">B11</text>
<rect x="555" y="1101.66" width="230.8" height="13.13" fill="#4682B4"/>
<text class="tk" font-size="8.8" transform="translate(535.2,1111.8) scale(1,1.08)" text-anchor="end">B5</text>
<rect x="555" y="1116.25" width="242" height="13.13" fill="#4682B4"/>
<text class="tk" font-size="8.8" transform="translate(535.2,1126.38) scale(1,1.08)" text-anchor="end">B6</text>
<rect x="555" y="1130.83" width="260" height="13.13" fill="#4682B4"/>
<text class="tk" font-size="8.8" transform="translate(535.2,1140.97) scale(1,1.08)" text-anchor="end">B8</text>
<rect x="555" y="1145.42" width="267" height="13.13" fill="#4682B4"/>
<text class="tk" font-size="8.8" transform="translate(535.2,1155.55) scale(1,1.08)" text-anchor="end">RGI</text>
<rect x="555" y="1160" width="277.2" height="13.13" fill="#4682B4"/>
<text class="tk" font-size="8.8" transform="translate(535.2,1170.14) scale(1,1.08)" text-anchor="end">B12</text>
<rect x="555" y="1174.59" width="308.7" height="13.13" fill="#4682B4"/>
<text class="tk" font-size="8.8" transform="translate(535.2,1184.72) scale(1,1.08)" text-anchor="end">B1</text>
<rect x="555" y="1189.17" width="343.1" height="13.13" fill="#4682B4"/>
<text class="tk" font-size="8.8" transform="translate(535.2,1199.31) scale(1,1.08)" text-anchor="end">MCI</text>
<text class="tk" font-size="8.8" transform="translate(554.4,1214.27) scale(1,1.08)" text-anchor="middle">0</text>
<text class="tk" font-size="8.8" transform="translate(666.2,1214.27) scale(1,1.08)" text-anchor="middle">2</text>
<text class="tk" font-size="8.8" transform="translate(777.9,1214.27) scale(1,1.08)" text-anchor="middle">4</text>
<text class="tk" font-size="8.8" transform="translate(889.2,1214.27) scale(1,1.08)" text-anchor="middle">6</text>
<text class="at" font-size="10.3" x="725.5" y="1225.89" text-anchor="middle">% Increase in MSE</text>
<text class="at" font-size="10.3" transform="translate(510.59,1086.3) rotate(-90)" text-anchor="middle">Predictors</text>
<rect x="499.4" y="964.4" width="419.1" height="265.7" fill="none" stroke="#666666" stroke-width="1.2"/>
<text class="ti" font-size="20.2" transform="translate(533.2,957) scale(1,0.95)">(h)</text>
<text class="ti" font-size="20.2" transform="translate(569.2,957) scale(1,0.95)" textLength="344.6" lengthAdjust="spacingAndGlyphs">Model 2 under Low-flow (wet) conditions</text>
<line x1="170.05" y1="1293.63" x2="170.05" y2="1531.97" stroke="#F5F5F5" stroke-width="0.8"/>
<line x1="309.55" y1="1293.63" x2="309.55" y2="1531.97" stroke="#F5F5F5" stroke-width="0.8"/>
<line x1="449.05" y1="1293.63" x2="449.05" y2="1531.97" stroke="#F5F5F5" stroke-width="0.8"/>
<line x1="100.3" y1="1293.63" x2="100.3" y2="1531.97" stroke="#F3F3F3" stroke-width="1"/>
<line x1="239.8" y1="1293.63" x2="239.8" y2="1531.97" stroke="#F3F3F3" stroke-width="1"/>
<line x1="379.3" y1="1293.63" x2="379.3" y2="1531.97" stroke="#F3F3F3" stroke-width="1"/>
<line x1="82.62" y1="1338.32" x2="471.58" y2="1338.32" stroke="#F3F3F3" stroke-width="1"/>
<line x1="82.62" y1="1412.8" x2="471.58" y2="1412.8" stroke="#F3F3F3" stroke-width="1"/>
<line x1="82.62" y1="1487.28" x2="471.58" y2="1487.28" stroke="#F3F3F3" stroke-width="1"/>
<rect x="100.3" y="1304.8" width="264.3" height="67.03" fill="#4682B4"/>
<text class="tk" font-size="8.8" transform="translate(78,1341.89) scale(1,1.08)" text-anchor="end">B4</text>
<rect x="100.3" y="1379.28" width="281.4" height="67.03" fill="#4682B4"/>
<text class="tk" font-size="8.8" transform="translate(78,1416.37) scale(1,1.08)" text-anchor="end">B2</text>
<rect x="100.3" y="1453.77" width="353.6" height="67.03" fill="#4682B4"/>
<text class="tk" font-size="8.8" transform="translate(78,1490.85) scale(1,1.08)" text-anchor="end">B1</text>
<text class="tk" font-size="8.8" transform="translate(100.3,1543.07) scale(1,1.08)" text-anchor="middle">0</text>
<text class="tk" font-size="8.8" transform="translate(239.8,1543.07) scale(1,1.08)" text-anchor="middle">5</text>
<text class="tk" font-size="8.8" transform="translate(379.3,1543.07) scale(1,1.08)" text-anchor="middle">10</text>
<text class="at" font-size="10.3" x="277.3" y="1553.39" text-anchor="middle">% Increase in MSE</text>
<text class="at" font-size="10.3" transform="translate(63.59,1413) rotate(-90)" text-anchor="middle">Predictors</text>
<rect x="52.9" y="1290.5" width="422.5" height="265.5" fill="none" stroke="#666666" stroke-width="1.2"/>
<text class="ti" font-size="20.2" transform="translate(77.9,1283) scale(1,0.95)" textLength="378.5" lengthAdjust="spacingAndGlyphs">(i) Model 1 under High-flow (wet) conditions</text>
<line x1="623.02" y1="1293.28" x2="623.02" y2="1532.62" stroke="#F5F5F5" stroke-width="0.8"/>
<line x1="761.88" y1="1293.28" x2="761.88" y2="1532.62" stroke="#F5F5F5" stroke-width="0.8"/>
<line x1="900.72" y1="1293.28" x2="900.72" y2="1532.62" stroke="#F5F5F5" stroke-width="0.8"/>
<line x1="553.6" y1="1293.28" x2="553.6" y2="1532.62" stroke="#F3F3F3" stroke-width="1"/>
<line x1="692.7" y1="1293.28" x2="692.7" y2="1532.62" stroke="#F3F3F3" stroke-width="1"/>
<line x1="831.3" y1="1293.28" x2="831.3" y2="1532.62" stroke="#F3F3F3" stroke-width="1"/>
<line x1="536.01" y1="1338.16" x2="922.99" y2="1338.16" stroke="#F3F3F3" stroke-width="1"/>
<line x1="536.01" y1="1412.95" x2="922.99" y2="1412.95" stroke="#F3F3F3" stroke-width="1"/>
<line x1="536.01" y1="1487.74" x2="922.99" y2="1487.74" stroke="#F3F3F3" stroke-width="1"/>
<rect x="553.6" y="1304.5" width="262.7" height="67.31" fill="#4682B4"/>
<text class="tk" font-size="8.8" transform="translate(534.8,1341.73) scale(1,1.08)" text-anchor="end">B12</text>
<rect x="553.6" y="1379.29" width="279.6" height="67.31" fill="#4682B4"/>
<text class="tk" font-size="8.8" transform="translate(534.8,1416.52) scale(1,1.08)" text-anchor="end">B4</text>
<rect x="553.6" y="1454.09" width="351.8" height="67.31" fill="#4682B4"/>
<text class="tk" font-size="8.8" transform="translate(534.8,1491.31) scale(1,1.08)" text-anchor="end">B3</text>
<text class="tk" font-size="8.8" transform="translate(553.6,1543.07) scale(1,1.08)" text-anchor="middle">0</text>
<text class="tk" font-size="8.8" transform="translate(692.7,1543.07) scale(1,1.08)" text-anchor="middle">5</text>
<text class="tk" font-size="8.8" transform="translate(831.3,1543.07) scale(1,1.08)" text-anchor="middle">10</text>
<text class="at" font-size="10.3" x="729.5" y="1553.79" text-anchor="middle">% Increase in MSE</text>
<text class="at" font-size="10.3" transform="translate(514.89,1414.4) rotate(-90)" text-anchor="middle">Predictors</text>
<rect x="503.6" y="1290.5" width="422.8" height="267.6" fill="none" stroke="#666666" stroke-width="1.2"/>
<text class="ti" font-size="20.2" transform="translate(539,1283) scale(1,0.95)" textLength="369.8" lengthAdjust="spacingAndGlyphs">(j) Model 1 under Low-flow (wet) conditions</text>
<line x1="131" y1="1590.09" x2="131" y2="1828.41" stroke="#F5F5F5" stroke-width="0.8"/>
<line x1="208.6" y1="1590.09" x2="208.6" y2="1828.41" stroke="#F5F5F5" stroke-width="0.8"/>
<line x1="286.2" y1="1590.09" x2="286.2" y2="1828.41" stroke="#F5F5F5" stroke-width="0.8"/>
<line x1="363.8" y1="1590.09" x2="363.8" y2="1828.41" stroke="#F5F5F5" stroke-width="0.8"/>
<line x1="441.4" y1="1590.09" x2="441.4" y2="1828.41" stroke="#F5F5F5" stroke-width="0.8"/>
<line x1="92.2" y1="1590.09" x2="92.2" y2="1828.41" stroke="#F3F3F3" stroke-width="1"/>
<line x1="170" y1="1590.09" x2="170" y2="1828.41" stroke="#F3F3F3" stroke-width="1"/>
<line x1="247.4" y1="1590.09" x2="247.4" y2="1828.41" stroke="#F3F3F3" stroke-width="1"/>
<line x1="324.8" y1="1590.09" x2="324.8" y2="1828.41" stroke="#F3F3F3" stroke-width="1"/>
<line x1="402.6" y1="1590.09" x2="402.6" y2="1828.41" stroke="#F3F3F3" stroke-width="1"/>
<line x1="91.89" y1="1598.92" x2="472.61" y2="1598.92" stroke="#F3F3F3" stroke-width="1"/>
<line x1="91.89" y1="1613.63" x2="472.61" y2="1613.63" stroke="#F3F3F3" stroke-width="1"/>
<line x1="91.89" y1="1628.34" x2="472.61" y2="1628.34" stroke="#F3F3F3" stroke-width="1"/>
<line x1="91.89" y1="1643.05" x2="472.61" y2="1643.05" stroke="#F3F3F3" stroke-width="1"/>
<line x1="91.89" y1="1657.76" x2="472.61" y2="1657.76" stroke="#F3F3F3" stroke-width="1"/>
<line x1="91.89" y1="1672.47" x2="472.61" y2="1672.47" stroke="#F3F3F3" stroke-width="1"/>
<line x1="91.89" y1="1687.18" x2="472.61" y2="1687.18" stroke="#F3F3F3" stroke-width="1"/>
<line x1="91.89" y1="1701.89" x2="472.61" y2="1701.89" stroke="#F3F3F3" stroke-width="1"/>
<line x1="91.89" y1="1716.61" x2="472.61" y2="1716.61" stroke="#F3F3F3" stroke-width="1"/>
<line x1="91.89" y1="1731.32" x2="472.61" y2="1731.32" stroke="#F3F3F3" stroke-width="1"/>
<line x1="91.89" y1="1746.03" x2="472.61" y2="1746.03" stroke="#F3F3F3" stroke-width="1"/>
<line x1="91.89" y1="1760.74" x2="472.61" y2="1760.74" stroke="#F3F3F3" stroke-width="1"/>
<line x1="91.89" y1="1775.45" x2="472.61" y2="1775.45" stroke="#F3F3F3" stroke-width="1"/>
<line x1="91.89" y1="1790.16" x2="472.61" y2="1790.16" stroke="#F3F3F3" stroke-width="1"/>
<line x1="91.89" y1="1804.87" x2="472.61" y2="1804.87" stroke="#F3F3F3" stroke-width="1"/>
<line x1="91.89" y1="1819.58" x2="472.61" y2="1819.58" stroke="#F3F3F3" stroke-width="1"/>
<rect x="109.2" y="1592.3" width="60.8" height="13.24" fill="#4682B4"/>
<text class="tk" font-size="8.8" transform="translate(89.2,1602.49) scale(1,1.08)" text-anchor="end">NDCI</text>
<rect x="143.2" y="1607.01" width="26.8" height="13.24" fill="#4682B4"/>
<text class="tk" font-size="8.8" transform="translate(89.2,1617.2) scale(1,1.08)" text-anchor="end">B12</text>
<rect x="155.5" y="1621.72" width="14.5" height="13.24" fill="#4682B4"/>
<text class="tk" font-size="8.8" transform="translate(89.2,1631.91) scale(1,1.08)" text-anchor="end">B8</text>
<rect x="165.3" y="1636.43" width="4.7" height="13.24" fill="#4682B4"/>
<text class="tk" font-size="8.8" transform="translate(89.2,1646.62) scale(1,1.08)" text-anchor="end">B11</text>
<rect x="170" y="1651.14" width="25.2" height="13.24" fill="#4682B4"/>
<text class="tk" font-size="8.8" transform="translate(89.2,1661.33) scale(1,1.08)" text-anchor="end">B5</text>
<rect x="170" y="1665.85" width="54.1" height="13.24" fill="#4682B4"/>
<text class="tk" font-size="8.8" transform="translate(89.2,1676.04) scale(1,1.08)" text-anchor="end">B3</text>
<rect x="170" y="1680.56" width="56" height="13.24" fill="#4682B4"/>
<text class="tk" font-size="8.8" transform="translate(89.2,1690.75) scale(1,1.08)" text-anchor="end">B7</text>
<rect x="170" y="1695.27" width="56.5" height="13.24" fill="#4682B4"/>
<text class="tk" font-size="8.8" transform="translate(89.2,1705.46) scale(1,1.08)" text-anchor="end">NDVI</text>
<rect x="170" y="1709.99" width="57.5" height="13.24" fill="#4682B4"/>
<text class="tk" font-size="8.8" transform="translate(89.2,1720.17) scale(1,1.08)" text-anchor="end">MCI</text>
<rect x="170" y="1724.7" width="75" height="13.24" fill="#4682B4"/>
<text class="tk" font-size="8.8" transform="translate(89.2,1734.89) scale(1,1.08)" text-anchor="end">RGI</text>
<rect x="170" y="1739.41" width="80.3" height="13.24" fill="#4682B4"/>
<text class="tk" font-size="8.8" transform="translate(89.2,1749.6) scale(1,1.08)" text-anchor="end">B4</text>
<rect x="170" y="1754.12" width="111.1" height="13.24" fill="#4682B4"/>
<text class="tk" font-size="8.8" transform="translate(89.2,1764.31) scale(1,1.08)" text-anchor="end">B8A</text>
<rect x="170" y="1768.83" width="127.7" height="13.24" fill="#4682B4"/>
<text class="tk" font-size="8.8" transform="translate(89.2,1779.02) scale(1,1.08)" text-anchor="end">B6</text>
<rect x="170" y="1783.54" width="174.2" height="13.24" fill="#4682B4"/>
<text class="tk" font-size="8.8" transform="translate(89.2,1793.73) scale(1,1.08)" text-anchor="end">FLH</text>
<rect x="170" y="1798.25" width="236.9" height="13.24" fill="#4682B4"/>
<text class="tk" font-size="8.8" transform="translate(89.2,1808.44) scale(1,1.08)" text-anchor="end">B1</text>
<rect x="170" y="1812.96" width="285.3" height="13.24" fill="#4682B4"/>
<text class="tk" font-size="8.8" transform="translate(89.2,1823.15) scale(1,1.08)" text-anchor="end">B2</text>
<text class="tk" font-size="8.8" transform="translate(92.2,1838.57) scale(1,1.08)" text-anchor="middle">-2.5</text>
<text class="tk" font-size="8.8" transform="translate(170,1838.57) scale(1,1.08)" text-anchor="middle">0.0</text>
<text class="tk" font-size="8.8" transform="translate(247.4,1838.57) scale(1,1.08)" text-anchor="middle">2.5</text>
<text class="tk" font-size="8.8" transform="translate(324.8,1838.57) scale(1,1.08)" text-anchor="middle">5.0</text>
<text class="tk" font-size="8.8" transform="translate(402.6,1838.57) scale(1,1.08)" text-anchor="middle">7.5</text>
<text class="at" font-size="10.3" x="282" y="1848.69" text-anchor="middle">% Increase in MSE</text>
<text class="at" font-size="10.3" transform="translate(64.79,1709.1) rotate(-90)" text-anchor="middle">Predictors</text>
<rect x="53.1" y="1586.5" width="422.3" height="267.8" fill="none" stroke="#666666" stroke-width="1.2"/>
<text class="ti" font-size="20.2" transform="translate(77.9,1579.3) scale(1,0.95)" textLength="383.2" lengthAdjust="spacingAndGlyphs">(k) Model 2 under High-flow (wet) conditions</text>
<line x1="609.97" y1="1590.5" x2="609.97" y2="1828.3" stroke="#F5F5F5" stroke-width="0.8"/>
<line x1="708.5" y1="1590.5" x2="708.5" y2="1828.3" stroke="#F5F5F5" stroke-width="0.8"/>
<line x1="807.03" y1="1590.5" x2="807.03" y2="1828.3" stroke="#F5F5F5" stroke-width="0.8"/>
<line x1="905.57" y1="1590.5" x2="905.57" y2="1828.3" stroke="#F5F5F5" stroke-width="0.8"/>
<line x1="560.7" y1="1590.5" x2="560.7" y2="1828.3" stroke="#F3F3F3" stroke-width="1"/>
<line x1="660.2" y1="1590.5" x2="660.2" y2="1828.3" stroke="#F3F3F3" stroke-width="1"/>
<line x1="758.3" y1="1590.5" x2="758.3" y2="1828.3" stroke="#F3F3F3" stroke-width="1"/>
<line x1="856.3" y1="1590.5" x2="856.3" y2="1828.3" stroke="#F3F3F3" stroke-width="1"/>
<line x1="542.5" y1="1599.31" x2="923.1" y2="1599.31" stroke="#F3F3F3" stroke-width="1"/>
<line x1="542.5" y1="1613.98" x2="923.1" y2="1613.98" stroke="#F3F3F3" stroke-width="1"/>
<line x1="542.5" y1="1628.66" x2="923.1" y2="1628.66" stroke="#F3F3F3" stroke-width="1"/>
<line x1="542.5" y1="1643.34" x2="923.1" y2="1643.34" stroke="#F3F3F3" stroke-width="1"/>
<line x1="542.5" y1="1658.02" x2="923.1" y2="1658.02" stroke="#F3F3F3" stroke-width="1"/>
<line x1="542.5" y1="1672.7" x2="923.1" y2="1672.7" stroke="#F3F3F3" stroke-width="1"/>
<line x1="542.5" y1="1687.38" x2="923.1" y2="1687.38" stroke="#F3F3F3" stroke-width="1"/>
<line x1="542.5" y1="1702.06" x2="923.1" y2="1702.06" stroke="#F3F3F3" stroke-width="1"/>
<line x1="542.5" y1="1716.74" x2="923.1" y2="1716.74" stroke="#F3F3F3" stroke-width="1"/>
<line x1="542.5" y1="1731.42" x2="923.1" y2="1731.42" stroke="#F3F3F3" stroke-width="1"/>
<line x1="542.5" y1="1746.1" x2="923.1" y2="1746.1" stroke="#F3F3F3" stroke-width="1"/>
<line x1="542.5" y1="1760.78" x2="923.1" y2="1760.78" stroke="#F3F3F3" stroke-width="1"/>
<line x1="542.5" y1="1775.46" x2="923.1" y2="1775.46" stroke="#F3F3F3" stroke-width="1"/>
<line x1="542.5" y1="1790.14" x2="923.1" y2="1790.14" stroke="#F3F3F3" stroke-width="1"/>
<line x1="542.5" y1="1804.82" x2="923.1" y2="1804.82" stroke="#F3F3F3" stroke-width="1"/>
<line x1="542.5" y1="1819.49" x2="923.1" y2="1819.49" stroke="#F3F3F3" stroke-width="1"/>
<rect x="559.8" y="1592.7" width="1.4" height="13.21" fill="#4682B4"/>
<text class="tk" font-size="8.8" transform="translate(539.5,1602.18) scale(1,1.08)" text-anchor="end">FLH</text>
<rect x="561.2" y="1607.38" width="99" height="13.21" fill="#4682B4"/>
<text class="tk" font-size="8.8" transform="translate(539.5,1616.85) scale(1,1.08)" text-anchor="end">B8</text>
<rect x="561.2" y="1622.06" width="111.7" height="13.21" fill="#4682B4"/>
<text class="tk" font-size="8.8" transform="translate(539.5,1631.53) scale(1,1.08)" text-anchor="end">RGI</text>
<rect x="561.2" y="1636.74" width="117.4" height="13.21" fill="#4682B4"/>
<text class="tk" font-size="8.8" transform="translate(539.5,1646.21) scale(1,1.08)" text-anchor="end">B6</text>
<rect x="561.2" y="1651.42" width="120.7" height="13.21" fill="#4682B4"/>
<text class="tk" font-size="8.8" transform="translate(539.5,1660.89) scale(1,1.08)" text-anchor="end">NDVI</text>
<rect x="561.2" y="1666.1" width="128.7" height="13.21" fill="#4682B4"/>
<text class="tk" font-size="8.8" transform="translate(539.5,1675.57) scale(1,1.08)" text-anchor="end">B7</text>
<rect x="561.2" y="1680.78" width="132.9" height="13.21" fill="#4682B4"/>
<text class="tk" font-size="8.8" transform="translate(539.5,1690.25) scale(1,1.08)" text-anchor="end">B8A</text>
<rect x="561.2" y="1695.45" width="138.6" height="13.21" fill="#4682B4"/>
<text class="tk" font-size="8.8" transform="translate(539.5,1704.93) scale(1,1.08)" text-anchor="end">B2</text>
<rect x="561.2" y="1710.13" width="177.7" height="13.21" fill="#4682B4"/>
<text class="tk" font-size="8.8" transform="translate(539.5,1719.61) scale(1,1.08)" text-anchor="end">B11</text>
<rect x="561.2" y="1724.81" width="179.2" height="13.21" fill="#4682B4"/>
<text class="tk" font-size="8.8" transform="translate(539.5,1734.29) scale(1,1.08)" text-anchor="end">NDCI</text>
<rect x="561.2" y="1739.49" width="188.6" height="13.21" fill="#4682B4"/>
<text class="tk" font-size="8.8" transform="translate(539.5,1748.97) scale(1,1.08)" text-anchor="end">B5</text>
<rect x="561.2" y="1754.17" width="189.5" height="13.21" fill="#4682B4"/>
<text class="tk" font-size="8.8" transform="translate(539.5,1763.65) scale(1,1.08)" text-anchor="end">B4</text>
<rect x="561.2" y="1768.85" width="203.7" height="13.21" fill="#4682B4"/>
<text class="tk" font-size="8.8" transform="translate(539.5,1778.33) scale(1,1.08)" text-anchor="end">B3</text>
<rect x="561.2" y="1783.53" width="226.8" height="13.21" fill="#4682B4"/>
<text class="tk" font-size="8.8" transform="translate(539.5,1793.01) scale(1,1.08)" text-anchor="end">B12</text>
<rect x="561.2" y="1798.21" width="235.3" height="13.21" fill="#4682B4"/>
<text class="tk" font-size="8.8" transform="translate(539.5,1807.68) scale(1,1.08)" text-anchor="end">MCI</text>
<rect x="561.2" y="1812.89" width="344.6" height="13.21" fill="#4682B4"/>
<text class="tk" font-size="8.8" transform="translate(539.5,1822.36) scale(1,1.08)" text-anchor="end">B1</text>
<text class="tk" font-size="8.8" transform="translate(560.7,1838.17) scale(1,1.08)" text-anchor="middle">0.0</text>
<text class="tk" font-size="8.8" transform="translate(660.2,1838.17) scale(1,1.08)" text-anchor="middle">2.5</text>
<text class="tk" font-size="8.8" transform="translate(758.3,1838.17) scale(1,1.08)" text-anchor="middle">5.0</text>
<text class="tk" font-size="8.8" transform="translate(856.3,1838.17) scale(1,1.08)" text-anchor="middle">7.5</text>
<text class="at" font-size="10.3" x="732.3" y="1849.59" text-anchor="middle">% Increase in MSE</text>
<text class="at" font-size="10.3" transform="translate(514.89,1709.2) rotate(-90)" text-anchor="middle">Predictors</text>
<rect x="503.6" y="1586.7" width="422.8" height="267.6" fill="none" stroke="#666666" stroke-width="1.2"/>
<text class="ti" font-size="20.2" transform="translate(539,1579) scale(1,0.95)" textLength="369.7" lengthAdjust="spacingAndGlyphs">(l) Model 2 under Low-flow (wet) conditions</text>
<line x1="160.3" y1="1917.21" x2="160.3" y2="2155.99" stroke="#F5F5F5" stroke-width="0.8"/>
<line x1="274.7" y1="1917.21" x2="274.7" y2="2155.99" stroke="#F5F5F5" stroke-width="0.8"/>
<line x1="389.1" y1="1917.21" x2="389.1" y2="2155.99" stroke="#F5F5F5" stroke-width="0.8"/>
<line x1="103.1" y1="1917.21" x2="103.1" y2="2155.99" stroke="#F3F3F3" stroke-width="1"/>
<line x1="217.5" y1="1917.21" x2="217.5" y2="2155.99" stroke="#F3F3F3" stroke-width="1"/>
<line x1="331.9" y1="1917.21" x2="331.9" y2="2155.99" stroke="#F3F3F3" stroke-width="1"/>
<line x1="446.3" y1="1917.21" x2="446.3" y2="2155.99" stroke="#F3F3F3" stroke-width="1"/>
<line x1="85.51" y1="1961.98" x2="472.38" y2="1961.98" stroke="#F3F3F3" stroke-width="1"/>
<line x1="85.51" y1="2036.6" x2="472.38" y2="2036.6" stroke="#F3F3F3" stroke-width="1"/>
<line x1="85.51" y1="2111.22" x2="472.38" y2="2111.22" stroke="#F3F3F3" stroke-width="1"/>
<rect x="103.1" y="1928.4" width="281.5" height="67.16" fill="#4682B4"/>
<text class="tk" font-size="8.8" transform="translate(82.7,1965.55) scale(1,1.08)" text-anchor="end">B11</text>
<rect x="103.1" y="2003.02" width="291.9" height="67.16" fill="#4682B4"/>
<text class="tk" font-size="8.8" transform="translate(82.7,2040.17) scale(1,1.08)" text-anchor="end">B12</text>
<rect x="103.1" y="2077.64" width="351.7" height="67.16" fill="#4682B4"/>
<text class="tk" font-size="8.8" transform="translate(82.7,2114.79) scale(1,1.08)" text-anchor="end">B8</text>
<text class="tk" font-size="8.8" transform="translate(103.1,2166.57) scale(1,1.08)" text-anchor="middle">0</text>
<text class="tk" font-size="8.8" transform="translate(217.5,2166.57) scale(1,1.08)" text-anchor="middle">5</text>
<text class="tk" font-size="8.8" transform="translate(331.9,2166.57) scale(1,1.08)" text-anchor="middle">10</text>
<text class="tk" font-size="8.8" transform="translate(446.3,2166.57) scale(1,1.08)" text-anchor="middle">15</text>
<text class="at" font-size="10.3" x="278.7" y="2177.49" text-anchor="middle">% Increase in MSE</text>
<text class="at" font-size="10.3" transform="translate(63.59,2038) rotate(-90)" text-anchor="middle">Predictors</text>
<rect x="53.1" y="1914.5" width="422.3" height="268" fill="none" stroke="#666666" stroke-width="1.2"/>
<text class="ti" font-size="20.2" transform="translate(77.9,1907) scale(1,0.95)" textLength="388.7" lengthAdjust="spacingAndGlyphs">(m) Model 1 under High-flow (wet) conditions</text>
<line x1="591.49" y1="1917.61" x2="591.49" y2="2156.89" stroke="#F5F5F5" stroke-width="0.8"/>
<line x1="665.26" y1="1917.61" x2="665.26" y2="2156.89" stroke="#F5F5F5" stroke-width="0.8"/>
<line x1="739.04" y1="1917.61" x2="739.04" y2="2156.89" stroke="#F5F5F5" stroke-width="0.8"/>
<line x1="812.81" y1="1917.61" x2="812.81" y2="2156.89" stroke="#F5F5F5" stroke-width="0.8"/>
<line x1="886.59" y1="1917.61" x2="886.59" y2="2156.89" stroke="#F5F5F5" stroke-width="0.8"/>
<line x1="554.6" y1="1917.61" x2="554.6" y2="2156.89" stroke="#F3F3F3" stroke-width="1"/>
<line x1="628.6" y1="1917.61" x2="628.6" y2="2156.89" stroke="#F3F3F3" stroke-width="1"/>
<line x1="702.6" y1="1917.61" x2="702.6" y2="2156.89" stroke="#F3F3F3" stroke-width="1"/>
<line x1="776.2" y1="1917.61" x2="776.2" y2="2156.89" stroke="#F3F3F3" stroke-width="1"/>
<line x1="849.7" y1="1917.61" x2="849.7" y2="2156.89" stroke="#F3F3F3" stroke-width="1"/>
<line x1="537.06" y1="1940.77" x2="922.94" y2="1940.77" stroke="#F3F3F3" stroke-width="1"/>
<line x1="537.06" y1="1979.36" x2="922.94" y2="1979.36" stroke="#F3F3F3" stroke-width="1"/>
<line x1="537.06" y1="2017.95" x2="922.94" y2="2017.95" stroke="#F3F3F3" stroke-width="1"/>
<line x1="537.06" y1="2056.55" x2="922.94" y2="2056.55" stroke="#F3F3F3" stroke-width="1"/>
<line x1="537.06" y1="2095.14" x2="922.94" y2="2095.14" stroke="#F3F3F3" stroke-width="1"/>
<line x1="537.06" y1="2133.73" x2="922.94" y2="2133.73" stroke="#F3F3F3" stroke-width="1"/>
<rect x="555" y="1923.4" width="82.1" height="34.73" fill="#4682B4"/>
<text class="tk" font-size="8.8" transform="translate(534.8,1944.34) scale(1,1.08)" text-anchor="end">B1</text>
<rect x="555" y="1961.99" width="227.3" height="34.73" fill="#4682B4"/>
<text class="tk" font-size="8.8" transform="translate(534.8,1982.93) scale(1,1.08)" text-anchor="end">B6</text>
<rect x="555" y="2000.59" width="234.9" height="34.73" fill="#4682B4"/>
<text class="tk" font-size="8.8" transform="translate(534.8,2021.52) scale(1,1.08)" text-anchor="end">B7</text>
<rect x="555" y="2039.18" width="301.8" height="34.73" fill="#4682B4"/>
<text class="tk" font-size="8.8" transform="translate(534.8,2060.12) scale(1,1.08)" text-anchor="end">B8A</text>
<rect x="555" y="2077.77" width="322.1" height="34.73" fill="#4682B4"/>
<text class="tk" font-size="8.8" transform="translate(534.8,2098.71) scale(1,1.08)" text-anchor="end">B5</text>
<rect x="555" y="2116.37" width="350.4" height="34.73" fill="#4682B4"/>
<text class="tk" font-size="8.8" transform="translate(534.8,2137.3) scale(1,1.08)" text-anchor="end">B11</text>
<text class="tk" font-size="8.8" transform="translate(554.6,2166.57) scale(1,1.08)" text-anchor="middle">0.0</text>
<text class="tk" font-size="8.8" transform="translate(628.6,2166.57) scale(1,1.08)" text-anchor="middle">2.5</text>
<text class="tk" font-size="8.8" transform="translate(702.6,2166.57) scale(1,1.08)" text-anchor="middle">5.0</text>
<text class="tk" font-size="8.8" transform="translate(776.2,2166.57) scale(1,1.08)" text-anchor="middle">7.5</text>
<text class="tk" font-size="8.8" transform="translate(849.7,2166.57) scale(1,1.08)" text-anchor="middle">10.0</text>
<text class="at" font-size="10.3" x="730.5" y="2177.89" text-anchor="middle">% Increase in MSE</text>
<text class="at" font-size="10.3" transform="translate(514.89,2037) rotate(-90)" text-anchor="middle">Predictors</text>
<rect x="503.6" y="1914.5" width="422.8" height="268" fill="none" stroke="#666666" stroke-width="1.2"/>
<text class="ti" font-size="20.2" transform="translate(539,1907.2) scale(1,0.95)" textLength="375.3" lengthAdjust="spacingAndGlyphs">(n) Model 1 under Low-flow (wet) conditions</text>
<line x1="155.82" y1="2234.79" x2="155.82" y2="2473.21" stroke="#F5F5F5" stroke-width="0.8"/>
<line x1="248.85" y1="2234.79" x2="248.85" y2="2473.21" stroke="#F5F5F5" stroke-width="0.8"/>
<line x1="341.88" y1="2234.79" x2="341.88" y2="2473.21" stroke="#F5F5F5" stroke-width="0.8"/>
<line x1="434.92" y1="2234.79" x2="434.92" y2="2473.21" stroke="#F5F5F5" stroke-width="0.8"/>
<line x1="109.3" y1="2234.79" x2="109.3" y2="2473.21" stroke="#F3F3F3" stroke-width="1"/>
<line x1="202.3" y1="2234.79" x2="202.3" y2="2473.21" stroke="#F3F3F3" stroke-width="1"/>
<line x1="295.3" y1="2234.79" x2="295.3" y2="2473.21" stroke="#F3F3F3" stroke-width="1"/>
<line x1="388.4" y1="2234.79" x2="388.4" y2="2473.21" stroke="#F3F3F3" stroke-width="1"/>
<line x1="92" y1="2243.62" x2="472.6" y2="2243.62" stroke="#F3F3F3" stroke-width="1"/>
<line x1="92" y1="2258.34" x2="472.6" y2="2258.34" stroke="#F3F3F3" stroke-width="1"/>
<line x1="92" y1="2273.06" x2="472.6" y2="2273.06" stroke="#F3F3F3" stroke-width="1"/>
<line x1="92" y1="2287.77" x2="472.6" y2="2287.77" stroke="#F3F3F3" stroke-width="1"/>
<line x1="92" y1="2302.49" x2="472.6" y2="2302.49" stroke="#F3F3F3" stroke-width="1"/>
<line x1="92" y1="2317.21" x2="472.6" y2="2317.21" stroke="#F3F3F3" stroke-width="1"/>
<line x1="92" y1="2331.92" x2="472.6" y2="2331.92" stroke="#F3F3F3" stroke-width="1"/>
<line x1="92" y1="2346.64" x2="472.6" y2="2346.64" stroke="#F3F3F3" stroke-width="1"/>
<line x1="92" y1="2361.36" x2="472.6" y2="2361.36" stroke="#F3F3F3" stroke-width="1"/>
<line x1="92" y1="2376.08" x2="472.6" y2="2376.08" stroke="#F3F3F3" stroke-width="1"/>
<line x1="92" y1="2390.79" x2="472.6" y2="2390.79" stroke="#F3F3F3" stroke-width="1"/>
<line x1="92" y1="2405.51" x2="472.6" y2="2405.51" stroke="#F3F3F3" stroke-width="1"/>
<line x1="92" y1="2420.23" x2="472.6" y2="2420.23" stroke="#F3F3F3" stroke-width="1"/>
<line x1="92" y1="2434.94" x2="472.6" y2="2434.94" stroke="#F3F3F3" stroke-width="1"/>
<line x1="92" y1="2449.66" x2="472.6" y2="2449.66" stroke="#F3F3F3" stroke-width="1"/>
<line x1="92" y1="2464.38" x2="472.6" y2="2464.38" stroke="#F3F3F3" stroke-width="1"/>
<rect x="109.3" y="2237" width="54.6" height="13.25" fill="#4682B4"/>
<text class="tk" font-size="8.8" transform="translate(88.9,2247.19) scale(1,1.08)" text-anchor="end">NDCI</text>
<rect x="109.3" y="2251.72" width="100.6" height="13.25" fill="#4682B4"/>
<text class="tk" font-size="8.8" transform="translate(88.9,2261.91) scale(1,1.08)" text-anchor="end">B6</text>
<rect x="109.3" y="2266.43" width="116.3" height="13.25" fill="#4682B4"/>
<text class="tk" font-size="8.8" transform="translate(88.9,2276.63) scale(1,1.08)" text-anchor="end">MCI</text>
<rect x="109.3" y="2281.15" width="152.8" height="13.25" fill="#4682B4"/>
<text class="tk" font-size="8.8" transform="translate(88.9,2291.34) scale(1,1.08)" text-anchor="end">B5</text>
<rect x="109.3" y="2295.87" width="158.5" height="13.25" fill="#4682B4"/>
<text class="tk" font-size="8.8" transform="translate(88.9,2306.06) scale(1,1.08)" text-anchor="end">B7</text>
<rect x="109.3" y="2310.58" width="164.7" height="13.25" fill="#4682B4"/>
<text class="tk" font-size="8.8" transform="translate(88.9,2320.78) scale(1,1.08)" text-anchor="end">NDVI</text>
<rect x="109.3" y="2325.3" width="188.9" height="13.25" fill="#4682B4"/>
<text class="tk" font-size="8.8" transform="translate(88.9,2335.49) scale(1,1.08)" text-anchor="end">B8A</text>
<rect x="109.3" y="2340.02" width="189.8" height="13.25" fill="#4682B4"/>
<text class="tk" font-size="8.8" transform="translate(88.9,2350.21) scale(1,1.08)" text-anchor="end">FLH</text>
<rect x="109.3" y="2354.74" width="260.1" height="13.25" fill="#4682B4"/>
<text class="tk" font-size="8.8" transform="translate(88.9,2364.93) scale(1,1.08)" text-anchor="end">RGI</text>
<rect x="109.3" y="2369.45" width="276.2" height="13.25" fill="#4682B4"/>
<text class="tk" font-size="8.8" transform="translate(88.9,2379.64) scale(1,1.08)" text-anchor="end">B3</text>
<rect x="109.3" y="2384.17" width="282.9" height="13.25" fill="#4682B4"/>
<text class="tk" font-size="8.8" transform="translate(88.9,2394.36) scale(1,1.08)" text-anchor="end">B2</text>
<rect x="109.3" y="2398.89" width="286.2" height="13.25" fill="#4682B4"/>
<text class="tk" font-size="8.8" transform="translate(88.9,2409.08) scale(1,1.08)" text-anchor="end">B11</text>
<rect x="109.3" y="2413.6" width="304.2" height="13.25" fill="#4682B4"/>
<text class="tk" font-size="8.8" transform="translate(88.9,2423.8) scale(1,1.08)" text-anchor="end">B4</text>
<rect x="109.3" y="2428.32" width="317.5" height="13.25" fill="#4682B4"/>
<text class="tk" font-size="8.8" transform="translate(88.9,2438.51) scale(1,1.08)" text-anchor="end">B8</text>
<rect x="109.3" y="2443.04" width="337.9" height="13.25" fill="#4682B4"/>
<text class="tk" font-size="8.8" transform="translate(88.9,2453.23) scale(1,1.08)" text-anchor="end">B1</text>
<rect x="109.3" y="2457.75" width="346" height="13.25" fill="#4682B4"/>
<text class="tk" font-size="8.8" transform="translate(88.9,2467.95) scale(1,1.08)" text-anchor="end">B12</text>
<text class="tk" font-size="8.8" transform="translate(109.3,2483.67) scale(1,1.08)" text-anchor="middle">0</text>
<text class="tk" font-size="8.8" transform="translate(202.3,2483.67) scale(1,1.08)" text-anchor="middle">2</text>
<text class="tk" font-size="8.8" transform="translate(295.3,2483.67) scale(1,1.08)" text-anchor="middle">4</text>
<text class="tk" font-size="8.8" transform="translate(388.4,2483.67) scale(1,1.08)" text-anchor="middle">6</text>
<text class="at" font-size="10.3" x="282" y="2494.09" text-anchor="middle">% Increase in MSE</text>
<text class="at" font-size="10.3" transform="translate(63.59,2352.8) rotate(-90)" text-anchor="middle">Predictors</text>
<rect x="53.1" y="2231.6" width="422.3" height="267.7" fill="none" stroke="#666666" stroke-width="1.2"/>
<text class="ti" font-size="20.2" transform="translate(77.9,2224.4) scale(1,0.95)" textLength="383.2" lengthAdjust="spacingAndGlyphs">(o) Model 2 under High-flow (wet) conditions</text>
<line x1="580.93" y1="2234.89" x2="580.93" y2="2473.21" stroke="#F5F5F5" stroke-width="0.8"/>
<line x1="670.67" y1="2234.89" x2="670.67" y2="2473.21" stroke="#F5F5F5" stroke-width="0.8"/>
<line x1="760.4" y1="2234.89" x2="760.4" y2="2473.21" stroke="#F5F5F5" stroke-width="0.8"/>
<line x1="850.13" y1="2234.89" x2="850.13" y2="2473.21" stroke="#F5F5F5" stroke-width="0.8"/>
<line x1="625.8" y1="2234.89" x2="625.8" y2="2473.21" stroke="#F3F3F3" stroke-width="1"/>
<line x1="715.8" y1="2234.89" x2="715.8" y2="2473.21" stroke="#F3F3F3" stroke-width="1"/>
<line x1="805.4" y1="2234.89" x2="805.4" y2="2473.21" stroke="#F3F3F3" stroke-width="1"/>
<line x1="895" y1="2234.89" x2="895" y2="2473.21" stroke="#F3F3F3" stroke-width="1"/>
<line x1="542.5" y1="2243.72" x2="923.1" y2="2243.72" stroke="#F3F3F3" stroke-width="1"/>
<line x1="542.5" y1="2258.43" x2="923.1" y2="2258.43" stroke="#F3F3F3" stroke-width="1"/>
<line x1="542.5" y1="2273.14" x2="923.1" y2="2273.14" stroke="#F3F3F3" stroke-width="1"/>
<line x1="542.5" y1="2287.85" x2="923.1" y2="2287.85" stroke="#F3F3F3" stroke-width="1"/>
<line x1="542.5" y1="2302.56" x2="923.1" y2="2302.56" stroke="#F3F3F3" stroke-width="1"/>
<line x1="542.5" y1="2317.27" x2="923.1" y2="2317.27" stroke="#F3F3F3" stroke-width="1"/>
<line x1="542.5" y1="2331.98" x2="923.1" y2="2331.98" stroke="#F3F3F3" stroke-width="1"/>
<line x1="542.5" y1="2346.69" x2="923.1" y2="2346.69" stroke="#F3F3F3" stroke-width="1"/>
<line x1="542.5" y1="2361.41" x2="923.1" y2="2361.41" stroke="#F3F3F3" stroke-width="1"/>
<line x1="542.5" y1="2376.12" x2="923.1" y2="2376.12" stroke="#F3F3F3" stroke-width="1"/>
<line x1="542.5" y1="2390.83" x2="923.1" y2="2390.83" stroke="#F3F3F3" stroke-width="1"/>
<line x1="542.5" y1="2405.54" x2="923.1" y2="2405.54" stroke="#F3F3F3" stroke-width="1"/>
<line x1="542.5" y1="2420.25" x2="923.1" y2="2420.25" stroke="#F3F3F3" stroke-width="1"/>
<line x1="542.5" y1="2434.96" x2="923.1" y2="2434.96" stroke="#F3F3F3" stroke-width="1"/>
<line x1="542.5" y1="2449.67" x2="923.1" y2="2449.67" stroke="#F3F3F3" stroke-width="1"/>
<line x1="542.5" y1="2464.38" x2="923.1" y2="2464.38" stroke="#F3F3F3" stroke-width="1"/>
<rect x="559.8" y="2237.1" width="66" height="13.24" fill="#4682B4"/>
<text class="tk" font-size="8.8" transform="translate(539.5,2247.29) scale(1,1.08)" text-anchor="end">FLH</text>
<rect x="625.8" y="2251.81" width="17" height="13.24" fill="#4682B4"/>
<text class="tk" font-size="8.8" transform="translate(539.5,2262) scale(1,1.08)" text-anchor="end">MCI</text>
<rect x="625.8" y="2266.52" width="55.6" height="13.24" fill="#4682B4"/>
<text class="tk" font-size="8.8" transform="translate(539.5,2276.71) scale(1,1.08)" text-anchor="end">NDVI</text>
<rect x="625.8" y="2281.23" width="66" height="13.24" fill="#4682B4"/>
<text class="tk" font-size="8.8" transform="translate(539.5,2291.42) scale(1,1.08)" text-anchor="end">RGI</text>
<rect x="625.8" y="2295.94" width="104.2" height="13.24" fill="#4682B4"/>
<text class="tk" font-size="8.8" transform="translate(539.5,2306.13) scale(1,1.08)" text-anchor="end">B4</text>
<rect x="625.8" y="2310.65" width="126.3" height="13.24" fill="#4682B4"/>
<text class="tk" font-size="8.8" transform="translate(539.5,2320.84) scale(1,1.08)" text-anchor="end">B1</text>
<rect x="625.8" y="2325.36" width="129.2" height="13.24" fill="#4682B4"/>
<text class="tk" font-size="8.8" transform="translate(539.5,2335.55) scale(1,1.08)" text-anchor="end">B2</text>
<rect x="625.8" y="2340.07" width="192.8" height="13.24" fill="#4682B4"/>
<text class="tk" font-size="8.8" transform="translate(539.5,2350.26) scale(1,1.08)" text-anchor="end">NDCI</text>
<rect x="625.8" y="2354.79" width="197.5" height="13.24" fill="#4682B4"/>
<text class="tk" font-size="8.8" transform="translate(539.5,2364.97) scale(1,1.08)" text-anchor="end">B8</text>
<rect x="625.8" y="2369.5" width="213.1" height="13.24" fill="#4682B4"/>
<text class="tk" font-size="8.8" transform="translate(539.5,2379.69) scale(1,1.08)" text-anchor="end">B6</text>
<rect x="625.8" y="2384.21" width="215.5" height="13.24" fill="#4682B4"/>
<text class="tk" font-size="8.8" transform="translate(539.5,2394.4) scale(1,1.08)" text-anchor="end">B8A</text>
<rect x="625.8" y="2398.92" width="254.1" height="13.24" fill="#4682B4"/>
<text class="tk" font-size="8.8" transform="translate(539.5,2409.11) scale(1,1.08)" text-anchor="end">B7</text>
<rect x="625.8" y="2413.63" width="257.4" height="13.24" fill="#4682B4"/>
<text class="tk" font-size="8.8" transform="translate(539.5,2423.82) scale(1,1.08)" text-anchor="end">B12</text>
<rect x="625.8" y="2428.34" width="264" height="13.24" fill="#4682B4"/>
<text class="tk" font-size="8.8" transform="translate(539.5,2438.53) scale(1,1.08)" text-anchor="end">B5</text>
<rect x="625.8" y="2443.05" width="273" height="13.24" fill="#4682B4"/>
<text class="tk" font-size="8.8" transform="translate(539.5,2453.24) scale(1,1.08)" text-anchor="end">B11</text>
<rect x="625.8" y="2457.76" width="280" height="13.24" fill="#4682B4"/>
<text class="tk" font-size="8.8" transform="translate(539.5,2467.95) scale(1,1.08)" text-anchor="end">B3</text>
<text class="tk" font-size="8.8" transform="translate(625.8,2484.17) scale(1,1.08)" text-anchor="middle">0.0</text>
<text class="tk" font-size="8.8" transform="translate(715.8,2484.17) scale(1,1.08)" text-anchor="middle">2.5</text>
<text class="tk" font-size="8.8" transform="translate(805.4,2484.17) scale(1,1.08)" text-anchor="middle">5.0</text>
<text class="tk" font-size="8.8" transform="translate(895,2484.17) scale(1,1.08)" text-anchor="middle">7.5</text>
<text class="at" font-size="10.3" x="732.3" y="2493.99" text-anchor="middle">% Increase in MSE</text>
<text class="at" font-size="10.3" transform="translate(514.89,2354) rotate(-90)" text-anchor="middle">Predictors</text>
<rect x="503.6" y="2231.6" width="422.8" height="267.7" fill="none" stroke="#666666" stroke-width="1.2"/>
<text class="ti" font-size="20.2" transform="translate(539,2224) scale(1,0.95)" textLength="374.4" lengthAdjust="spacingAndGlyphs">(p) Model 2 under Low-flow (wet) conditions</text>
</svg></body></html>
